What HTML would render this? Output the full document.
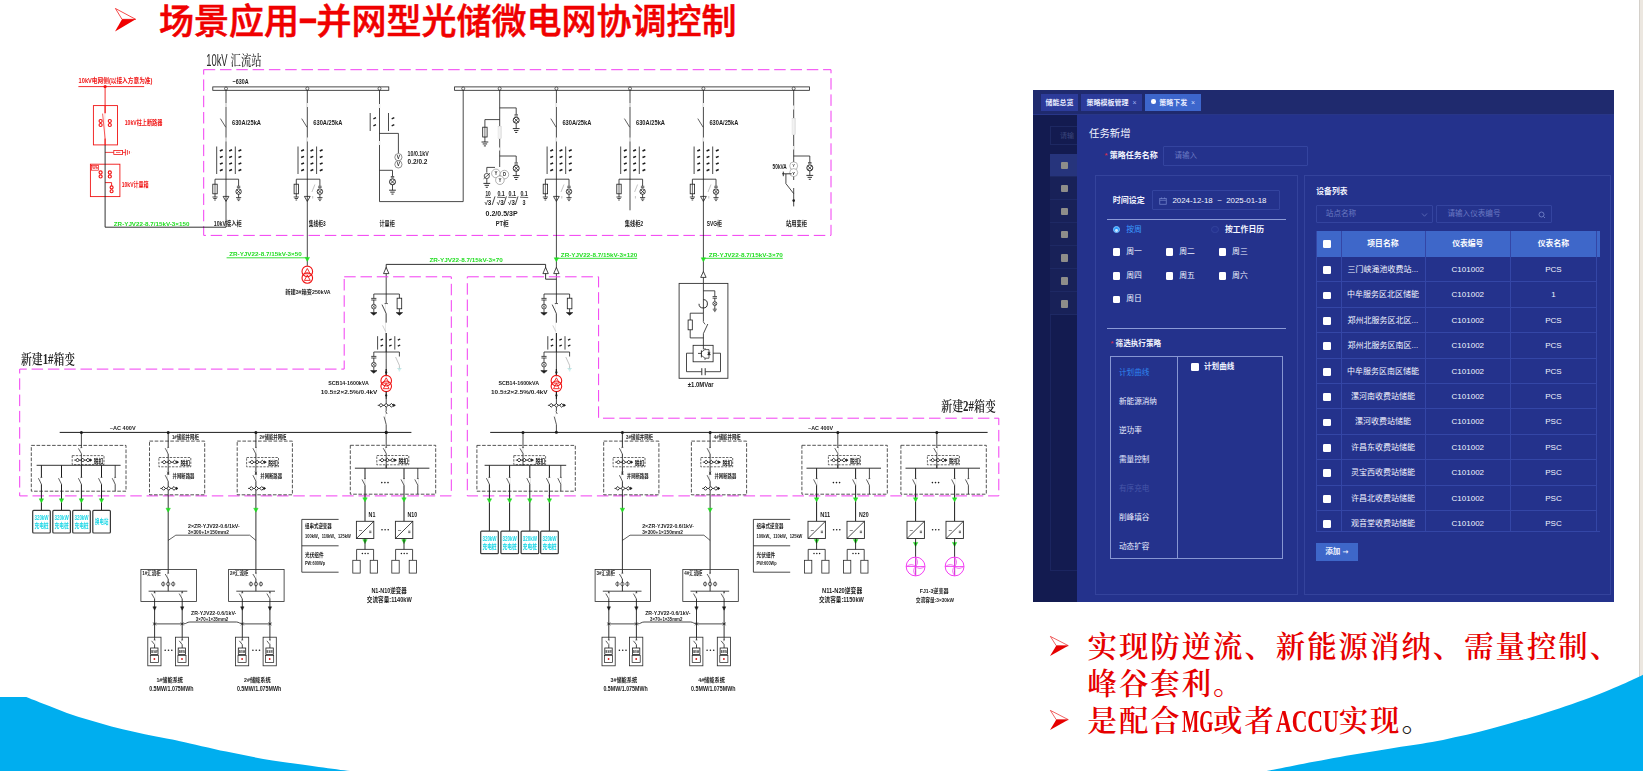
<!DOCTYPE html>
<html lang="zh"><head><meta charset="utf-8"><title>场景应用</title>
<style>
html,body{margin:0;padding:0;background:#fff;}
body{width:1643px;height:771px;position:relative;overflow:hidden;
 font-family:"Liberation Sans","Noto Sans CJK SC",sans-serif;}
.abs{position:absolute;}
#title{left:112px;top:-0.5px;height:44px;line-height:44px;white-space:nowrap;color:#f00000;
 font-family:"Liberation Sans","Noto Sans CJK SC",sans-serif;font-weight:500;font-size:35px;letter-spacing:0px;-webkit-text-stroke:0.55px #f00000;}
#title .dash{display:inline-block;width:17.5px;text-align:center;}
#title .dash i{display:inline-block;font-style:normal;transform:scaleX(1.75);position:relative;top:-3.6px;font-weight:700;}
#title .arr{position:absolute;left:0;top:0;}
#title .t{position:absolute;left:47px;top:0;}
#bul{left:1048px;top:628.5px;color:#e60000;
 font-family:"Liberation Serif","Noto Serif CJK SC",serif;font-weight:600;font-size:29.4px;letter-spacing:2px;line-height:37.4px;white-space:nowrap;}
#bul .ln{position:absolute;left:39.5px;height:38px;}
#bul .lat{display:inline-block;transform-origin:0 50%;white-space:nowrap;font-weight:700;letter-spacing:0;font-size:31.4px;line-height:37.4px;vertical-align:top;}
#edge{left:1638.6px;top:0;width:5px;height:771px;background:#ece7e0;border-left:1px solid #d4d0ca;box-sizing:border-box;}

#pn{left:1033px;top:90px;width:580.5px;height:512px;background:#24328c;overflow:hidden;color:#fff;
 font-family:"Liberation Sans","Noto Sans CJK SC",sans-serif;font-size:8px;}
#pn div,#pn span{position:absolute;box-sizing:border-box;white-space:nowrap;}
#pn .tb{left:0;top:0;width:581px;height:23.5px;background:#1f2a6e;}
#pn .tbl{left:0;top:23.5px;width:581px;height:1px;background:#283688;}
#pn .tab{top:3.8px;height:17px;line-height:17px;background:#2c3b9a;font-size:7px;font-weight:700;text-align:center;color:#e8ecff;}
#pn .tab.on{background:#3d66cc;}
#pn .sb{left:0;top:24.5px;width:44px;height:488px;background:#131b50;}
#pn .sbin{left:17px;top:36px;width:40px;height:19px;border:1px solid #1d2862;color:#3b467c;font-size:7px;line-height:17px;padding-left:9px;}
#pn .sbr{left:17px;width:27px;height:23.1px;background:#182158;border-bottom:1px solid #1e2964;}
#pn .sbr.on{background:#26347c;}
#pn .sq{left:10.5px;top:7.8px;width:7.6px;height:7.6px;background:#8e8d8a;border-radius:1px;}
#pn .sbbox{left:17px;top:63.8px;width:30px;height:417px;border:1px solid #1b2560;border-top:none;}
#pn .h1{left:56px;top:37px;font-size:10.4px;line-height:14px;color:#f2f4ff;}
#pn .lab{font-weight:700;font-size:8px;line-height:12px;color:#f4f6ff;}
#pn .req{color:#e0304a;font-weight:400;}
#pn .inp{border:1px solid #34449f;border-radius:1px;}
#pn .ph{color:#6a79c2;font-size:7.6px;line-height:12px;}
#pn .card{border:1px solid #34439c;}
#pn .hr{height:1px;background:#8c9bd6;}
#pn .cb{width:7.8px;height:7.8px;background:#fff;border-radius:1.3px;}
#pn .cl{font-size:7.8px;line-height:12px;color:#f0f3ff;}
#pn .st{font-size:7.6px;line-height:12px;color:#e9edff;}
#pn .th{background:#3e67c9;font-weight:700;font-size:7.8px;line-height:25.5px;text-align:center;color:#fff;}
#pn .td{font-size:8px;line-height:25.4px;text-align:center;color:#f3f5ff;height:25.4px;border-bottom:1px solid #3446a6;}
#pn .vl{width:1px;background:#3446a6;}
</style></head>
<body>
<div id="title" class="abs"><svg class="abs" style="left:3.4px;top:8.5px;overflow:visible" width="20.7" height="23.6" viewBox="0 0 100 100" preserveAspectRatio="none"><path d="M2 2 L100 48 L34 48 Z" fill="none" stroke="#f00000" stroke-width="3.2" stroke-linejoin="miter"/><path d="M34 48 L100 48 L0 100 Z" fill="#f00000"/></svg><span class="t">场景应用<span class="dash"><i>-</i></span>并网型光储微电网协调控制</span></div>
<svg class="abs" id="dg" style="left:0;top:0;filter:blur(0.35px)" width="1643" height="771" viewBox="0 0 1643 771" fill="none"><style>text.a{font-family:"Liberation Sans","Noto Sans CJK SC",sans-serif;font-weight:700;}text.b{font-family:"Liberation Sans","Noto Sans CJK SC",sans-serif;font-weight:700;}text.n{font-family:"Liberation Sans","Noto Sans CJK SC",sans-serif;font-weight:400;}text.k{font-family:"Liberation Serif","Noto Serif CJK SC",serif;}</style><rect x="203.7" y="69.7" width="627.3" height="165.7" stroke="#f23df2" stroke-width="1.0" fill="none" stroke-dasharray="11.5 4.8"/><text class="n" x="206.2" y="65.9" font-size="16.4" fill="#2a2a2a" textLength="21.4" lengthAdjust="spacingAndGlyphs">10kV</text><text class="k" x="230.6" y="65.1" font-size="13.6" fill="#2a2a2a" font-weight="500" textLength="31" lengthAdjust="spacingAndGlyphs">汇流站</text><rect x="212.8" y="86.9" width="176" height="3.4" stroke="#1c1c1c" stroke-width="0.8" fill="#fff" /><rect x="454.6" y="86.9" width="355" height="3.4" stroke="#1c1c1c" stroke-width="0.8" fill="#fff" /><text class="a" x="232.6" y="84.38" font-size="6.6" fill="#1c1c1c" textLength="16" lengthAdjust="spacingAndGlyphs">~630A</text><circle cx="226" cy="88.6" r="1.5" stroke="#1c1c1c" stroke-width="0.7" fill="#fff"/><path d="M226 90.3L226 227.2" stroke="#1c1c1c" stroke-width="0.8" /><path d="M226 103L226 107" stroke="#e9e9e9" stroke-width="1.6" /><path d="M226 137.5L226 141.5" stroke="#e9e9e9" stroke-width="1.6" /><path d="M220.4 118.6L225.7 127.2" stroke="#1c1c1c" stroke-width="0.7" /><text class="a" x="232" y="125.19" font-size="7.2" fill="#1c1c1c" textLength="29" lengthAdjust="spacingAndGlyphs">630A/25kA</text><path d="M216.7 146.5L216.7 174" stroke="#1c1c1c" stroke-width="0.8" /><path d="M235.3 146.5L235.3 174" stroke="#1c1c1c" stroke-width="0.8" /><path d="M219.9 151.03L222.7 149.83" stroke="#1c1c1c" stroke-width="1.6" /><path d="M219.9 157.58L222.7 156.38" stroke="#1c1c1c" stroke-width="1.6" /><path d="M219.9 164.12L222.7 162.92" stroke="#1c1c1c" stroke-width="1.6" /><path d="M219.9 170.67L222.7 169.47" stroke="#1c1c1c" stroke-width="1.6" /><path d="M229.2 151.03L232 149.83" stroke="#1c1c1c" stroke-width="1.6" /><path d="M229.2 157.58L232 156.38" stroke="#1c1c1c" stroke-width="1.6" /><path d="M229.2 164.12L232 162.92" stroke="#1c1c1c" stroke-width="1.6" /><path d="M229.2 170.67L232 169.47" stroke="#1c1c1c" stroke-width="1.6" /><path d="M238.5 151.03L241.3 149.83" stroke="#1c1c1c" stroke-width="1.6" /><path d="M238.5 157.58L241.3 156.38" stroke="#1c1c1c" stroke-width="1.6" /><path d="M238.5 164.12L241.3 162.92" stroke="#1c1c1c" stroke-width="1.6" /><path d="M238.5 170.67L241.3 169.47" stroke="#1c1c1c" stroke-width="1.6" /><path d="M215 179.2L238.6 179.2" stroke="#1c1c1c" stroke-width="0.8" /><path d="M215 179.2L215 184.2" stroke="#1c1c1c" stroke-width="0.8" /><rect x="212.8" y="184.2" width="4.4" height="9.6" stroke="#1c1c1c" stroke-width="0.8" fill="none" /><path d="M215 184.2L215 193.8" stroke="#1c1c1c" stroke-width="0.6400000000000001" /><path d="M215 193.8L215 197" stroke="#1c1c1c" stroke-width="0.8" /><path d="M212.4 197L217.6 197" stroke="#1c1c1c" stroke-width="0.8" /><path d="M213.3 198.5L216.7 198.5" stroke="#1c1c1c" stroke-width="0.8" /><path d="M214.2 200L215.8 200" stroke="#1c1c1c" stroke-width="0.8" /><path d="M238.6 179.2L238.6 186" stroke="#1c1c1c" stroke-width="0.8" /><path d="M236.9 186.3L240.3 186.3" stroke="#1c1c1c" stroke-width="0.7" /><path d="M236.9 187.6L240.3 187.6" stroke="#1c1c1c" stroke-width="0.7" /><circle cx="238.6" cy="191.6" r="2.7" stroke="#1c1c1c" stroke-width="0.85" fill="none"/><path d="M236.71 189.71L240.49 193.49" stroke="#1c1c1c" stroke-width="0.765" /><path d="M236.71 193.49L240.49 189.71" stroke="#1c1c1c" stroke-width="0.765" /><path d="M238.6 194.1L238.6 197.6" stroke="#1c1c1c" stroke-width="0.8" /><path d="M236 197.6L241.2 197.6" stroke="#1c1c1c" stroke-width="0.8" /><path d="M236.9 199.1L240.3 199.1" stroke="#1c1c1c" stroke-width="0.8" /><path d="M237.8 200.6L239.4 200.6" stroke="#1c1c1c" stroke-width="0.8" /><path d="M223.1 196.4L228.9 196.4L226 201.4Z" stroke="#1c1c1c" stroke-width="0.8" fill="none" /><circle cx="307.3" cy="88.6" r="1.5" stroke="#1c1c1c" stroke-width="0.7" fill="#fff"/><path d="M307.3 90.3L307.3 265.8" stroke="#1c1c1c" stroke-width="0.8" /><path d="M307.3 103L307.3 107" stroke="#e9e9e9" stroke-width="1.6" /><path d="M307.3 137.5L307.3 141.5" stroke="#e9e9e9" stroke-width="1.6" /><path d="M301.7 118.6L307 127.2" stroke="#1c1c1c" stroke-width="0.7" /><text class="a" x="313.3" y="125.19" font-size="7.2" fill="#1c1c1c" textLength="29" lengthAdjust="spacingAndGlyphs">630A/25kA</text><path d="M298 146.5L298 174" stroke="#1c1c1c" stroke-width="0.8" /><path d="M316.6 146.5L316.6 174" stroke="#1c1c1c" stroke-width="0.8" /><path d="M301.2 151.03L304 149.83" stroke="#1c1c1c" stroke-width="1.6" /><path d="M301.2 157.58L304 156.38" stroke="#1c1c1c" stroke-width="1.6" /><path d="M301.2 164.12L304 162.92" stroke="#1c1c1c" stroke-width="1.6" /><path d="M301.2 170.67L304 169.47" stroke="#1c1c1c" stroke-width="1.6" /><path d="M310.5 151.03L313.3 149.83" stroke="#1c1c1c" stroke-width="1.6" /><path d="M310.5 157.58L313.3 156.38" stroke="#1c1c1c" stroke-width="1.6" /><path d="M310.5 164.12L313.3 162.92" stroke="#1c1c1c" stroke-width="1.6" /><path d="M310.5 170.67L313.3 169.47" stroke="#1c1c1c" stroke-width="1.6" /><path d="M319.8 151.03L322.6 149.83" stroke="#1c1c1c" stroke-width="1.6" /><path d="M319.8 157.58L322.6 156.38" stroke="#1c1c1c" stroke-width="1.6" /><path d="M319.8 164.12L322.6 162.92" stroke="#1c1c1c" stroke-width="1.6" /><path d="M319.8 170.67L322.6 169.47" stroke="#1c1c1c" stroke-width="1.6" /><path d="M296.3 179.2L319.9 179.2" stroke="#1c1c1c" stroke-width="0.8" /><path d="M296.3 179.2L296.3 184.2" stroke="#1c1c1c" stroke-width="0.8" /><rect x="294.1" y="184.2" width="4.4" height="9.6" stroke="#1c1c1c" stroke-width="0.8" fill="none" /><path d="M296.3 184.2L296.3 193.8" stroke="#1c1c1c" stroke-width="0.6400000000000001" /><path d="M296.3 193.8L296.3 197" stroke="#1c1c1c" stroke-width="0.8" /><path d="M293.7 197L298.9 197" stroke="#1c1c1c" stroke-width="0.8" /><path d="M294.6 198.5L298 198.5" stroke="#1c1c1c" stroke-width="0.8" /><path d="M295.5 200L297.1 200" stroke="#1c1c1c" stroke-width="0.8" /><path d="M319.9 179.2L319.9 186" stroke="#1c1c1c" stroke-width="0.8" /><path d="M318.2 186.3L321.6 186.3" stroke="#1c1c1c" stroke-width="0.7" /><path d="M318.2 187.6L321.6 187.6" stroke="#1c1c1c" stroke-width="0.7" /><circle cx="319.9" cy="191.6" r="2.7" stroke="#1c1c1c" stroke-width="0.85" fill="none"/><path d="M318.01 189.71L321.79 193.49" stroke="#1c1c1c" stroke-width="0.765" /><path d="M318.01 193.49L321.79 189.71" stroke="#1c1c1c" stroke-width="0.765" /><path d="M319.9 194.1L319.9 197.6" stroke="#1c1c1c" stroke-width="0.8" /><path d="M317.3 197.6L322.5 197.6" stroke="#1c1c1c" stroke-width="0.8" /><path d="M318.2 199.1L321.6 199.1" stroke="#1c1c1c" stroke-width="0.8" /><path d="M319.1 200.6L320.7 200.6" stroke="#1c1c1c" stroke-width="0.8" /><path d="M314.9 184.5L311.9 192" stroke="#9a9a9a" stroke-width="0.6" /><path d="M312.7 196L312.7 198.5" stroke="#9a9a9a" stroke-width="0.6" /><path d="M304.4 196.4L310.2 196.4L307.3 201.4Z" stroke="#1c1c1c" stroke-width="0.8" fill="none" /><circle cx="556.4" cy="88.6" r="1.5" stroke="#1c1c1c" stroke-width="0.7" fill="#fff"/><path d="M556.4 90.3L556.4 270" stroke="#1c1c1c" stroke-width="0.8" /><path d="M556.4 103L556.4 107" stroke="#e9e9e9" stroke-width="1.6" /><path d="M556.4 137.5L556.4 141.5" stroke="#e9e9e9" stroke-width="1.6" /><path d="M550.8 118.6L556.1 127.2" stroke="#1c1c1c" stroke-width="0.7" /><text class="a" x="562.4" y="125.19" font-size="7.2" fill="#1c1c1c" textLength="29" lengthAdjust="spacingAndGlyphs">630A/25kA</text><path d="M547.1 146.5L547.1 174" stroke="#1c1c1c" stroke-width="0.8" /><path d="M565.7 146.5L565.7 174" stroke="#1c1c1c" stroke-width="0.8" /><path d="M550.3 151.03L553.1 149.83" stroke="#1c1c1c" stroke-width="1.6" /><path d="M550.3 157.58L553.1 156.38" stroke="#1c1c1c" stroke-width="1.6" /><path d="M550.3 164.12L553.1 162.92" stroke="#1c1c1c" stroke-width="1.6" /><path d="M550.3 170.67L553.1 169.47" stroke="#1c1c1c" stroke-width="1.6" /><path d="M559.6 151.03L562.4 149.83" stroke="#1c1c1c" stroke-width="1.6" /><path d="M559.6 157.58L562.4 156.38" stroke="#1c1c1c" stroke-width="1.6" /><path d="M559.6 164.12L562.4 162.92" stroke="#1c1c1c" stroke-width="1.6" /><path d="M559.6 170.67L562.4 169.47" stroke="#1c1c1c" stroke-width="1.6" /><path d="M568.9 151.03L571.7 149.83" stroke="#1c1c1c" stroke-width="1.6" /><path d="M568.9 157.58L571.7 156.38" stroke="#1c1c1c" stroke-width="1.6" /><path d="M568.9 164.12L571.7 162.92" stroke="#1c1c1c" stroke-width="1.6" /><path d="M568.9 170.67L571.7 169.47" stroke="#1c1c1c" stroke-width="1.6" /><path d="M545.4 179.2L569 179.2" stroke="#1c1c1c" stroke-width="0.8" /><path d="M545.4 179.2L545.4 184.2" stroke="#1c1c1c" stroke-width="0.8" /><rect x="543.2" y="184.2" width="4.4" height="9.6" stroke="#1c1c1c" stroke-width="0.8" fill="none" /><path d="M545.4 184.2L545.4 193.8" stroke="#1c1c1c" stroke-width="0.6400000000000001" /><path d="M545.4 193.8L545.4 197" stroke="#1c1c1c" stroke-width="0.8" /><path d="M542.8 197L548 197" stroke="#1c1c1c" stroke-width="0.8" /><path d="M543.7 198.5L547.1 198.5" stroke="#1c1c1c" stroke-width="0.8" /><path d="M544.6 200L546.2 200" stroke="#1c1c1c" stroke-width="0.8" /><path d="M569 179.2L569 186" stroke="#1c1c1c" stroke-width="0.8" /><path d="M567.3 186.3L570.7 186.3" stroke="#1c1c1c" stroke-width="0.7" /><path d="M567.3 187.6L570.7 187.6" stroke="#1c1c1c" stroke-width="0.7" /><circle cx="569" cy="191.6" r="2.7" stroke="#1c1c1c" stroke-width="0.85" fill="none"/><path d="M567.11 189.71L570.89 193.49" stroke="#1c1c1c" stroke-width="0.765" /><path d="M567.11 193.49L570.89 189.71" stroke="#1c1c1c" stroke-width="0.765" /><path d="M569 194.1L569 197.6" stroke="#1c1c1c" stroke-width="0.8" /><path d="M566.4 197.6L571.6 197.6" stroke="#1c1c1c" stroke-width="0.8" /><path d="M567.3 199.1L570.7 199.1" stroke="#1c1c1c" stroke-width="0.8" /><path d="M568.2 200.6L569.8 200.6" stroke="#1c1c1c" stroke-width="0.8" /><path d="M564 184.5L561 192" stroke="#9a9a9a" stroke-width="0.6" /><path d="M561.8 196L561.8 198.5" stroke="#9a9a9a" stroke-width="0.6" /><path d="M553.5 196.4L559.3 196.4L556.4 201.4Z" stroke="#1c1c1c" stroke-width="0.8" fill="none" /><circle cx="630" cy="88.6" r="1.5" stroke="#1c1c1c" stroke-width="0.7" fill="#fff"/><path d="M630 90.3L630 210.3" stroke="#1c1c1c" stroke-width="0.8" /><path d="M630 103L630 107" stroke="#e9e9e9" stroke-width="1.6" /><path d="M630 137.5L630 141.5" stroke="#e9e9e9" stroke-width="1.6" /><path d="M624.4 118.6L629.7 127.2" stroke="#1c1c1c" stroke-width="0.7" /><text class="a" x="636" y="125.19" font-size="7.2" fill="#1c1c1c" textLength="29" lengthAdjust="spacingAndGlyphs">630A/25kA</text><path d="M620.7 146.5L620.7 174" stroke="#1c1c1c" stroke-width="0.8" /><path d="M639.3 146.5L639.3 174" stroke="#1c1c1c" stroke-width="0.8" /><path d="M623.9 151.03L626.7 149.83" stroke="#1c1c1c" stroke-width="1.6" /><path d="M623.9 157.58L626.7 156.38" stroke="#1c1c1c" stroke-width="1.6" /><path d="M623.9 164.12L626.7 162.92" stroke="#1c1c1c" stroke-width="1.6" /><path d="M623.9 170.67L626.7 169.47" stroke="#1c1c1c" stroke-width="1.6" /><path d="M633.2 151.03L636 149.83" stroke="#1c1c1c" stroke-width="1.6" /><path d="M633.2 157.58L636 156.38" stroke="#1c1c1c" stroke-width="1.6" /><path d="M633.2 164.12L636 162.92" stroke="#1c1c1c" stroke-width="1.6" /><path d="M633.2 170.67L636 169.47" stroke="#1c1c1c" stroke-width="1.6" /><path d="M642.5 151.03L645.3 149.83" stroke="#1c1c1c" stroke-width="1.6" /><path d="M642.5 157.58L645.3 156.38" stroke="#1c1c1c" stroke-width="1.6" /><path d="M642.5 164.12L645.3 162.92" stroke="#1c1c1c" stroke-width="1.6" /><path d="M642.5 170.67L645.3 169.47" stroke="#1c1c1c" stroke-width="1.6" /><path d="M619 179.2L642.6 179.2" stroke="#1c1c1c" stroke-width="0.8" /><path d="M619 179.2L619 184.2" stroke="#1c1c1c" stroke-width="0.8" /><rect x="616.8" y="184.2" width="4.4" height="9.6" stroke="#1c1c1c" stroke-width="0.8" fill="none" /><path d="M619 184.2L619 193.8" stroke="#1c1c1c" stroke-width="0.6400000000000001" /><path d="M619 193.8L619 197" stroke="#1c1c1c" stroke-width="0.8" /><path d="M616.4 197L621.6 197" stroke="#1c1c1c" stroke-width="0.8" /><path d="M617.3 198.5L620.7 198.5" stroke="#1c1c1c" stroke-width="0.8" /><path d="M618.2 200L619.8 200" stroke="#1c1c1c" stroke-width="0.8" /><path d="M642.6 179.2L642.6 186" stroke="#1c1c1c" stroke-width="0.8" /><path d="M640.9 186.3L644.3 186.3" stroke="#1c1c1c" stroke-width="0.7" /><path d="M640.9 187.6L644.3 187.6" stroke="#1c1c1c" stroke-width="0.7" /><circle cx="642.6" cy="191.6" r="2.7" stroke="#1c1c1c" stroke-width="0.85" fill="none"/><path d="M640.71 189.71L644.49 193.49" stroke="#1c1c1c" stroke-width="0.765" /><path d="M640.71 193.49L644.49 189.71" stroke="#1c1c1c" stroke-width="0.765" /><path d="M642.6 194.1L642.6 197.6" stroke="#1c1c1c" stroke-width="0.8" /><path d="M640 197.6L645.2 197.6" stroke="#1c1c1c" stroke-width="0.8" /><path d="M640.9 199.1L644.3 199.1" stroke="#1c1c1c" stroke-width="0.8" /><path d="M641.8 200.6L643.4 200.6" stroke="#1c1c1c" stroke-width="0.8" /><path d="M637.6 184.5L634.6 192" stroke="#9a9a9a" stroke-width="0.6" /><path d="M635.4 196L635.4 198.5" stroke="#9a9a9a" stroke-width="0.6" /><circle cx="703.4" cy="88.6" r="1.5" stroke="#1c1c1c" stroke-width="0.7" fill="#fff"/><path d="M703.4 90.3L703.4 272" stroke="#1c1c1c" stroke-width="0.8" /><path d="M703.4 103L703.4 107" stroke="#e9e9e9" stroke-width="1.6" /><path d="M703.4 137.5L703.4 141.5" stroke="#e9e9e9" stroke-width="1.6" /><path d="M697.8 118.6L703.1 127.2" stroke="#1c1c1c" stroke-width="0.7" /><text class="a" x="709.4" y="125.19" font-size="7.2" fill="#1c1c1c" textLength="29" lengthAdjust="spacingAndGlyphs">630A/25kA</text><path d="M694.1 146.5L694.1 174" stroke="#1c1c1c" stroke-width="0.8" /><path d="M712.7 146.5L712.7 174" stroke="#1c1c1c" stroke-width="0.8" /><path d="M697.3 151.03L700.1 149.83" stroke="#1c1c1c" stroke-width="1.6" /><path d="M697.3 157.58L700.1 156.38" stroke="#1c1c1c" stroke-width="1.6" /><path d="M697.3 164.12L700.1 162.92" stroke="#1c1c1c" stroke-width="1.6" /><path d="M697.3 170.67L700.1 169.47" stroke="#1c1c1c" stroke-width="1.6" /><path d="M706.6 151.03L709.4 149.83" stroke="#1c1c1c" stroke-width="1.6" /><path d="M706.6 157.58L709.4 156.38" stroke="#1c1c1c" stroke-width="1.6" /><path d="M706.6 164.12L709.4 162.92" stroke="#1c1c1c" stroke-width="1.6" /><path d="M706.6 170.67L709.4 169.47" stroke="#1c1c1c" stroke-width="1.6" /><path d="M715.9 151.03L718.7 149.83" stroke="#1c1c1c" stroke-width="1.6" /><path d="M715.9 157.58L718.7 156.38" stroke="#1c1c1c" stroke-width="1.6" /><path d="M715.9 164.12L718.7 162.92" stroke="#1c1c1c" stroke-width="1.6" /><path d="M715.9 170.67L718.7 169.47" stroke="#1c1c1c" stroke-width="1.6" /><path d="M692.4 179.2L716 179.2" stroke="#1c1c1c" stroke-width="0.8" /><path d="M692.4 179.2L692.4 184.2" stroke="#1c1c1c" stroke-width="0.8" /><rect x="690.2" y="184.2" width="4.4" height="9.6" stroke="#1c1c1c" stroke-width="0.8" fill="none" /><path d="M692.4 184.2L692.4 193.8" stroke="#1c1c1c" stroke-width="0.6400000000000001" /><path d="M692.4 193.8L692.4 197" stroke="#1c1c1c" stroke-width="0.8" /><path d="M689.8 197L695 197" stroke="#1c1c1c" stroke-width="0.8" /><path d="M690.7 198.5L694.1 198.5" stroke="#1c1c1c" stroke-width="0.8" /><path d="M691.6 200L693.2 200" stroke="#1c1c1c" stroke-width="0.8" /><path d="M716 179.2L716 186" stroke="#1c1c1c" stroke-width="0.8" /><path d="M714.3 186.3L717.7 186.3" stroke="#1c1c1c" stroke-width="0.7" /><path d="M714.3 187.6L717.7 187.6" stroke="#1c1c1c" stroke-width="0.7" /><circle cx="716" cy="191.6" r="2.7" stroke="#1c1c1c" stroke-width="0.85" fill="none"/><path d="M714.11 189.71L717.89 193.49" stroke="#1c1c1c" stroke-width="0.765" /><path d="M714.11 193.49L717.89 189.71" stroke="#1c1c1c" stroke-width="0.765" /><path d="M716 194.1L716 197.6" stroke="#1c1c1c" stroke-width="0.8" /><path d="M713.4 197.6L718.6 197.6" stroke="#1c1c1c" stroke-width="0.8" /><path d="M714.3 199.1L717.7 199.1" stroke="#1c1c1c" stroke-width="0.8" /><path d="M715.2 200.6L716.8 200.6" stroke="#1c1c1c" stroke-width="0.8" /><path d="M711 184.5L708 192" stroke="#9a9a9a" stroke-width="0.6" /><path d="M708.8 196L708.8 198.5" stroke="#9a9a9a" stroke-width="0.6" /><path d="M700.5 196.4L706.3 196.4L703.4 201.4Z" stroke="#1c1c1c" stroke-width="0.8" fill="none" /><circle cx="379.5" cy="88.6" r="1.5" stroke="#1c1c1c" stroke-width="0.7" fill="#fff"/><path d="M379.5 90.3L379.5 201.6" stroke="#1c1c1c" stroke-width="0.8" /><path d="M379.5 104L379.5 108" stroke="#e9e9e9" stroke-width="1.6" /><path d="M379.5 141L379.5 145" stroke="#e9e9e9" stroke-width="1.6" /><path d="M370.2 113L370.2 131" stroke="#1c1c1c" stroke-width="0.8" /><path d="M373.4 118.8L376 117.6" stroke="#1c1c1c" stroke-width="1.3" /><path d="M373.4 125.8L376 124.6" stroke="#1c1c1c" stroke-width="1.3" /><path d="M388.5 113L388.5 131" stroke="#1c1c1c" stroke-width="0.8" /><path d="M391.7 118.8L394.3 117.6" stroke="#1c1c1c" stroke-width="1.3" /><path d="M391.7 125.8L394.3 124.6" stroke="#1c1c1c" stroke-width="1.3" /><path d="M379.5 133.4L398.4 133.4L398.4 153.4" stroke="#1c1c1c" stroke-width="0.8" fill="none" /><circle cx="398.4" cy="157.2" r="3.6" stroke="#444" stroke-width="0.6" fill="#fff"/><circle cx="398.4" cy="164.4" r="3.6" stroke="#444" stroke-width="0.6" fill="#fff"/><text class="b" x="396.8" y="159.07" font-size="5.2" fill="#1c1c1c" textLength="3.2" lengthAdjust="spacingAndGlyphs">V</text><text class="b" x="396.8" y="166.27" font-size="5.2" fill="#1c1c1c" textLength="3.2" lengthAdjust="spacingAndGlyphs">V</text><text class="a" x="407.6" y="155.98" font-size="6.6" fill="#1c1c1c" textLength="21.2" lengthAdjust="spacingAndGlyphs">10/0.1kV</text><text class="a" x="407.6" y="163.98" font-size="6.6" fill="#1c1c1c" textLength="19.8" lengthAdjust="spacingAndGlyphs">0.2/0.2</text><path d="M379.5 170.3L392.5 170.3L392.5 176.2" stroke="#1c1c1c" stroke-width="0.8" fill="none" /><path d="M390.8 176.5L394.2 176.5" stroke="#1c1c1c" stroke-width="0.7" /><path d="M390.8 177.8L394.2 177.8" stroke="#1c1c1c" stroke-width="0.7" /><circle cx="392.5" cy="181.9" r="3" stroke="#1c1c1c" stroke-width="0.9" fill="none"/><path d="M390.4 179.8L394.6 184" stroke="#1c1c1c" stroke-width="0.81" /><path d="M390.4 184L394.6 179.8" stroke="#1c1c1c" stroke-width="0.81" /><path d="M392.5 184.5L392.5 190.2" stroke="#1c1c1c" stroke-width="0.8" /><path d="M389.12 190.2L395.88 190.2" stroke="#1c1c1c" stroke-width="0.9" /><path d="M390.29 192.15L394.71 192.15" stroke="#1c1c1c" stroke-width="0.9" /><path d="M391.46 194.1L393.54 194.1" stroke="#1c1c1c" stroke-width="0.9" /><path d="M379.5 201.6L463.2 201.6L463.2 90.3" stroke="#1c1c1c" stroke-width="0.8" fill="none" /><circle cx="463.2" cy="88.6" r="1.5" stroke="#1c1c1c" stroke-width="0.7" fill="#fff"/><circle cx="499.7" cy="88.6" r="1.5" stroke="#1c1c1c" stroke-width="0.7" fill="#fff"/><path d="M499.7 90.3L499.7 167" stroke="#1c1c1c" stroke-width="0.8" /><path d="M499.7 107.9L516.2 107.9L516.2 114.4" stroke="#1c1c1c" stroke-width="0.8" fill="none" /><path d="M514.5 114.7L517.9 114.7" stroke="#1c1c1c" stroke-width="0.7" /><path d="M514.5 116L517.9 116" stroke="#1c1c1c" stroke-width="0.7" /><circle cx="516.2" cy="120.2" r="3" stroke="#1c1c1c" stroke-width="0.9" fill="none"/><path d="M514.1 118.1L518.3 122.3" stroke="#1c1c1c" stroke-width="0.81" /><path d="M514.1 122.3L518.3 118.1" stroke="#1c1c1c" stroke-width="0.81" /><path d="M516.2 122.8L516.2 128.6" stroke="#1c1c1c" stroke-width="0.8" /><path d="M512.82 128.6L519.58 128.6" stroke="#1c1c1c" stroke-width="0.9" /><path d="M513.99 130.55L518.41 130.55" stroke="#1c1c1c" stroke-width="0.9" /><path d="M515.16 132.5L517.24 132.5" stroke="#1c1c1c" stroke-width="0.9" /><path d="M499.7 119.6L484.9 119.6L484.9 127.2" stroke="#1c1c1c" stroke-width="0.8" fill="none" /><rect x="482.7" y="127.2" width="4.4" height="9.8" stroke="#1c1c1c" stroke-width="0.8" fill="none" /><path d="M484.9 127.2L484.9 137" stroke="#1c1c1c" stroke-width="0.6400000000000001" /><path d="M484.9 137L484.9 142" stroke="#1c1c1c" stroke-width="0.8" /><path d="M481.52 142L488.28 142" stroke="#1c1c1c" stroke-width="0.9" /><path d="M482.69 143.95L487.11 143.95" stroke="#1c1c1c" stroke-width="0.9" /><path d="M483.86 145.9L485.94 145.9" stroke="#1c1c1c" stroke-width="0.9" /><path d="M499.7 126L499.7 139" stroke="#f2f2f2" stroke-width="1.8" /><rect x="498.1" y="126.4" width="3.2" height="12.2" stroke="#cfcfcf" stroke-width="0.5" fill="none" /><path d="M499.7 147.5L499.7 150.5" stroke="#e9e9e9" stroke-width="1.6" /><path d="M499.7 156L516.2 156L516.2 162.5" stroke="#1c1c1c" stroke-width="0.8" fill="none" /><path d="M514.5 162.8L517.9 162.8" stroke="#1c1c1c" stroke-width="0.7" /><path d="M514.5 164.1L517.9 164.1" stroke="#1c1c1c" stroke-width="0.7" /><circle cx="516.2" cy="168.3" r="3" stroke="#1c1c1c" stroke-width="0.9" fill="none"/><path d="M514.1 166.2L518.3 170.4" stroke="#1c1c1c" stroke-width="0.81" /><path d="M514.1 170.4L518.3 166.2" stroke="#1c1c1c" stroke-width="0.81" /><path d="M516.2 170.9L516.2 175.6" stroke="#1c1c1c" stroke-width="0.8" /><path d="M512.82 175.6L519.58 175.6" stroke="#1c1c1c" stroke-width="0.9" /><path d="M513.99 177.55L518.41 177.55" stroke="#1c1c1c" stroke-width="0.9" /><path d="M515.16 179.5L517.24 179.5" stroke="#1c1c1c" stroke-width="0.9" /><circle cx="495.9" cy="173.4" r="4.3" stroke="#666" stroke-width="0.5" fill="#fff"/><circle cx="504.4" cy="174.6" r="4.3" stroke="#666" stroke-width="0.5" fill="#fff"/><circle cx="499.9" cy="180.2" r="4.3" stroke="#666" stroke-width="0.5" fill="#fff"/><text class="b" x="494.4" y="174.96" font-size="4.6" fill="#1c1c1c" textLength="3" lengthAdjust="spacingAndGlyphs">Y</text><text class="b" x="502.9" y="176.26" font-size="4.6" fill="#1c1c1c" textLength="3" lengthAdjust="spacingAndGlyphs">D</text><text class="b" x="498.4" y="181.96" font-size="4.6" fill="#1c1c1c" textLength="3" lengthAdjust="spacingAndGlyphs">Y</text><path d="M495 167.4L486.8 167.4L486.8 172.6" stroke="#1c1c1c" stroke-width="0.8" fill="none" /><circle cx="486.8" cy="176" r="2.6" stroke="#1c1c1c" stroke-width="0.7" fill="none"/><path d="M483.6 178.8L490 173.2" stroke="#1c1c1c" stroke-width="0.7" /><path d="M486.8 178.6L486.8 183.4" stroke="#1c1c1c" stroke-width="0.8" /><path d="M483.42 183.4L490.18 183.4" stroke="#1c1c1c" stroke-width="0.9" /><path d="M484.59 185.35L489.01 185.35" stroke="#1c1c1c" stroke-width="0.9" /><path d="M485.76 187.3L487.84 187.3" stroke="#1c1c1c" stroke-width="0.9" /><text class="b" x="485.4" y="196.1" font-size="6.4" fill="#1c1c1c" textLength="5.2" lengthAdjust="spacingAndGlyphs">10</text><path d="M485.2 197.2L491 197.6" stroke="#1c1c1c" stroke-width="0.7" /><text class="b" x="484.4" y="205.3" font-size="6.4" fill="#1c1c1c" textLength="7" lengthAdjust="spacingAndGlyphs">√3</text><text class="b" x="497.4" y="196.1" font-size="6.4" fill="#1c1c1c" textLength="7.4" lengthAdjust="spacingAndGlyphs">0.1</text><path d="M497.1 197.2L505.2 197.6" stroke="#1c1c1c" stroke-width="0.7" /><text class="b" x="496.8" y="205.3" font-size="6.4" fill="#1c1c1c" textLength="6.8" lengthAdjust="spacingAndGlyphs">√3</text><text class="b" x="508.6" y="196.1" font-size="6.4" fill="#1c1c1c" textLength="7.4" lengthAdjust="spacingAndGlyphs">0.1</text><path d="M508.3 197.2L516.4 197.6" stroke="#1c1c1c" stroke-width="0.7" /><text class="b" x="508" y="205.3" font-size="6.4" fill="#1c1c1c" textLength="6.8" lengthAdjust="spacingAndGlyphs">√3</text><text class="b" x="520.4" y="196.1" font-size="6.4" fill="#1c1c1c" textLength="7.4" lengthAdjust="spacingAndGlyphs">0.1</text><path d="M520.1 197.2L528.2 197.6" stroke="#1c1c1c" stroke-width="0.7" /><text class="b" x="522.6" y="205.3" font-size="6.4" fill="#1c1c1c" textLength="3" lengthAdjust="spacingAndGlyphs">3</text><path d="M492.2 205L495 196.4" stroke="#1c1c1c" stroke-width="0.8" /><path d="M503.6 205L506.4 196.4" stroke="#1c1c1c" stroke-width="0.8" /><path d="M515.2 205L518 196.4" stroke="#1c1c1c" stroke-width="0.8" /><text class="a" x="485.6" y="215.65" font-size="6.8" fill="#1c1c1c" textLength="32" lengthAdjust="spacingAndGlyphs">0.2/0.5/3P</text><circle cx="793.7" cy="88.6" r="1.5" stroke="#1c1c1c" stroke-width="0.7" fill="#fff"/><path d="M793.7 90.3L793.7 162" stroke="#1c1c1c" stroke-width="0.8" /><path d="M793.7 105.5L793.7 109.5" stroke="#e9e9e9" stroke-width="1.6" /><path d="M793.7 118L793.7 135" stroke="#f2f2f2" stroke-width="1.8" /><rect x="792.1" y="118.6" width="3.2" height="16" stroke="#cfcfcf" stroke-width="0.5" fill="none" /><path d="M793.7 146L793.7 149.5" stroke="#e9e9e9" stroke-width="1.6" /><path d="M793.7 156L809.8 156L809.8 162.2" stroke="#1c1c1c" stroke-width="0.8" fill="none" /><path d="M808.1 162.5L811.5 162.5" stroke="#1c1c1c" stroke-width="0.7" /><path d="M808.1 163.8L811.5 163.8" stroke="#1c1c1c" stroke-width="0.7" /><circle cx="809.8" cy="167.9" r="3" stroke="#1c1c1c" stroke-width="0.9" fill="none"/><path d="M807.7 165.8L811.9 170" stroke="#1c1c1c" stroke-width="0.81" /><path d="M807.7 170L811.9 165.8" stroke="#1c1c1c" stroke-width="0.81" /><path d="M809.8 170.5L809.8 175.4" stroke="#1c1c1c" stroke-width="0.8" /><path d="M806.42 175.4L813.18 175.4" stroke="#1c1c1c" stroke-width="0.9" /><path d="M807.59 177.35L812.01 177.35" stroke="#1c1c1c" stroke-width="0.9" /><path d="M808.76 179.3L810.84 179.3" stroke="#1c1c1c" stroke-width="0.9" /><circle cx="793.7" cy="165.9" r="4" stroke="#777" stroke-width="0.5" fill="#fff"/><circle cx="793.7" cy="172.6" r="4" stroke="#777" stroke-width="0.5" fill="#fff"/><text class="b" x="792.3" y="167.41" font-size="4.2" fill="#555" textLength="2.8" lengthAdjust="spacingAndGlyphs">Y</text><text class="b" x="792.3" y="174.91" font-size="4.2" fill="#1c1c1c" textLength="2.8" lengthAdjust="spacingAndGlyphs">Y</text><text class="a" x="772.6" y="168.6" font-size="6.4" fill="#1c1c1c" textLength="14.2" lengthAdjust="spacingAndGlyphs">50kVA</text><path d="M782.1 173.8L791.7 173.8" stroke="#1c1c1c" stroke-width="0.9" /><path d="M783.3 171.6L783.3 176.2" stroke="#1c1c1c" stroke-width="0.9" /><path d="M785.9 174L785.9 183.6L793.7 193.6" stroke="#1c1c1c" stroke-width="0.8" fill="none" /><path d="M793.7 176.6L793.7 180" stroke="#1c1c1c" stroke-width="0.8" /><path d="M793.7 188L793.7 206.4" stroke="#1c1c1c" stroke-width="0.8" /><circle cx="793.7" cy="200.6" r="1.3" fill="#1c1c1c"/><text class="b" x="213.8" y="225.9" font-size="6.4" fill="#1c1c1c" textLength="27.8" lengthAdjust="spacingAndGlyphs">10kV接入柜</text><text class="b" x="308.8" y="225.9" font-size="6.4" fill="#1c1c1c" textLength="16.8" lengthAdjust="spacingAndGlyphs">集线柜3</text><text class="b" x="379.4" y="225.9" font-size="6.4" fill="#1c1c1c" textLength="15.4" lengthAdjust="spacingAndGlyphs">计量柜</text><text class="b" x="495.8" y="225.9" font-size="6.4" fill="#1c1c1c" textLength="13" lengthAdjust="spacingAndGlyphs">PT柜</text><text class="b" x="624.8" y="225.9" font-size="6.4" fill="#1c1c1c" textLength="18.4" lengthAdjust="spacingAndGlyphs">集线柜2</text><text class="b" x="706.8" y="225.9" font-size="6.4" fill="#1c1c1c" textLength="15.2" lengthAdjust="spacingAndGlyphs">SVG柜</text><text class="b" x="786" y="225.9" font-size="6.4" fill="#1c1c1c" textLength="21" lengthAdjust="spacingAndGlyphs">站用变柜</text><text class="b" x="78.6" y="83.12" font-size="7" fill="#f01414" textLength="73.8" lengthAdjust="spacingAndGlyphs">10kV电网侧(以接入方意为准)</text><path d="M78.4 86.6L144.2 86.6" stroke="#f01414" stroke-width="0.9" /><circle cx="105.1" cy="86.6" r="1.6" fill="#f01414"/><path d="M105.1 86.6L105.1 145" stroke="#f01414" stroke-width="0.9" /><rect x="93.4" y="105.6" width="24.1" height="39.3" stroke="#f01414" stroke-width="0.9" fill="none" /><path d="M105.1 113L105.1 138.6" stroke="#fff" stroke-width="1.6" /><path d="M105.1 105.6L105.1 113.4" stroke="#f01414" stroke-width="0.9" /><path d="M105.1 138.6L105.1 145" stroke="#f01414" stroke-width="0.9" /><circle cx="100.6" cy="121" r="1.55" stroke="#f01414" stroke-width="1.15" fill="none"/><circle cx="100.6" cy="125" r="1.55" stroke="#f01414" stroke-width="1.15" fill="none"/><circle cx="109.8" cy="121" r="1.55" stroke="#f01414" stroke-width="1.15" fill="none"/><circle cx="109.8" cy="125" r="1.55" stroke="#f01414" stroke-width="1.15" fill="none"/><path d="M102.6 113.6L105.1 138.6" stroke="#f01414" stroke-width="0.7" /><text class="b" x="124.7" y="124.52" font-size="7" fill="#f01414" textLength="37.7" lengthAdjust="spacingAndGlyphs">10kV柱上断路器</text><path d="M105.1 152.4L113.8 152.4" stroke="#f01414" stroke-width="0.8" /><rect x="113.8" y="150.4" width="8.8" height="4" stroke="#f01414" stroke-width="0.8" fill="none" /><path d="M116 152.4L120.4 152.4" stroke="#f01414" stroke-width="0.7" /><path d="M122.6 152.4L125.4 152.4" stroke="#f01414" stroke-width="0.8" /><path d="M125.4 149.2L125.4 155.6" stroke="#f01414" stroke-width="0.8" /><path d="M127.4 150L127.4 154.8" stroke="#f01414" stroke-width="0.8" /><path d="M129.4 151L129.4 153.8" stroke="#f01414" stroke-width="0.8" /><path d="M131.2 152.4L131.3 152.4" stroke="#f01414" stroke-width="0.8" /><rect x="90.4" y="164.2" width="29.5" height="32.4" stroke="#f01414" stroke-width="0.9" fill="none" /><rect x="91.6" y="165.4" width="7" height="4.8" stroke="#f01414" stroke-width="0.7" fill="none" /><text class="b" x="92.2" y="169.1" font-size="3.6" fill="#f01414" textLength="5.8" lengthAdjust="spacingAndGlyphs">Wh</text><circle cx="100.6" cy="172.4" r="1.55" stroke="#f01414" stroke-width="1.15" fill="none"/><circle cx="100.6" cy="176.4" r="1.55" stroke="#f01414" stroke-width="1.15" fill="none"/><circle cx="109.8" cy="172.4" r="1.55" stroke="#f01414" stroke-width="1.15" fill="none"/><circle cx="109.8" cy="176.4" r="1.55" stroke="#f01414" stroke-width="1.15" fill="none"/><path d="M105.1 182.6L111.6 182.6L111.6 186" stroke="#f01414" stroke-width="0.9" fill="none" /><circle cx="111.6" cy="187.4" r="1.5" stroke="#f01414" stroke-width="1.15" fill="none"/><circle cx="111.6" cy="191.2" r="1.5" stroke="#f01414" stroke-width="1.15" fill="none"/><text class="b" x="121.7" y="187.32" font-size="7" fill="#f01414" textLength="27" lengthAdjust="spacingAndGlyphs">10kV计量箱</text><path d="M105.1 145L105.1 227.2L226 227.2" stroke="#1c1c1c" stroke-width="0.9" fill="none" /><text class="b" x="113.8" y="225.82" font-size="5.6" fill="#22dd22" textLength="75.6" lengthAdjust="spacingAndGlyphs">ZR-YJV22-8.7/15kV-3×150</text><text class="b" x="229.2" y="256.02" font-size="5.6" fill="#22dd22" textLength="72.6" lengthAdjust="spacingAndGlyphs">ZR-YJV22-8.7/15kV-3×50</text><path d="M226.6 257.8L307.3 257.8" stroke="#22dd22" stroke-width="0.9" /><path d="M305.1 257.4L309.5 257.4L307.3 261.4Z" stroke="#22dd22" stroke-width="0.5" fill="#22dd22" /><circle cx="307.3" cy="271.4" r="5.3" stroke="#f01414" stroke-width="1.1" fill="none"/><circle cx="307.3" cy="278" r="5.3" stroke="#f01414" stroke-width="1.1" fill="none"/><path d="M304.38 273.78L307.3 268.48L310.22 273.78Z" stroke="#f01414" stroke-width="0.8800000000000001" fill="none" /><path d="M304.38 280.38L307.3 275.08L310.22 280.38Z" stroke="#f01414" stroke-width="0.8800000000000001" fill="none" /><text class="b" x="285.2" y="294.23" font-size="6.2" fill="#1c1c1c" textLength="45.4" lengthAdjust="spacingAndGlyphs">新建3#箱变250kVA</text><path d="M386.2 270L386.2 264.4L545.6 264.4L545.6 279.2L556.4 279.2" stroke="#1c1c1c" stroke-width="0.9" fill="none" /><path d="M383.5 273.6L388.9 273.6L386.2 267.4Z" stroke="#1c1c1c" stroke-width="0.8" fill="#fff" /><path d="M542.9 273.6L548.3 273.6L545.6 267.4Z" stroke="#1c1c1c" stroke-width="0.8" fill="#fff" /><path d="M553.7 273.6L559.1 273.6L556.4 267.4Z" stroke="#1c1c1c" stroke-width="0.8" fill="#fff" /><text class="b" x="429.4" y="262.22" font-size="5.6" fill="#22dd22" textLength="73.4" lengthAdjust="spacingAndGlyphs">ZR-YJV22-8.7/15kV-3×70</text><text class="b" x="560.8" y="256.52" font-size="5.6" fill="#22dd22" textLength="76.4" lengthAdjust="spacingAndGlyphs">ZR-YJV22-8.7/15kV-3×120</text><path d="M556.4 258.3L637.2 258.3" stroke="#22dd22" stroke-width="0.9" /><path d="M554.2 257.8L558.6 257.8L556.4 261.8Z" stroke="#22dd22" stroke-width="0.5" fill="#22dd22" /><text class="b" x="708.8" y="256.52" font-size="5.6" fill="#22dd22" textLength="74" lengthAdjust="spacingAndGlyphs">ZR-YJV22-8.7/15kV-3×70</text><path d="M703.4 258.3L782.8 258.3" stroke="#22dd22" stroke-width="0.9" /><path d="M701.2 257.8L705.6 257.8L703.4 261.8Z" stroke="#22dd22" stroke-width="0.5" fill="#22dd22" /><path d="M386.2 273.6L386.2 376" stroke="#1c1c1c" stroke-width="0.8" /><path d="M373.8 294L399.4 294" stroke="#1c1c1c" stroke-width="0.8" /><path d="M373.8 294L373.8 298.2" stroke="#1c1c1c" stroke-width="0.8" /><path d="M371.2 298.4L376.4 298.4" stroke="#1c1c1c" stroke-width="0.8" /><path d="M371.2 300L376.4 300" stroke="#1c1c1c" stroke-width="0.8" /><path d="M373.8 300L373.8 304.4" stroke="#1c1c1c" stroke-width="0.8" /><circle cx="373.8" cy="306.6" r="2.3" stroke="#1c1c1c" stroke-width="0.7" fill="none"/><path d="M372.19 304.99L375.41 308.21" stroke="#1c1c1c" stroke-width="0.63" /><path d="M372.19 308.21L375.41 304.99" stroke="#1c1c1c" stroke-width="0.63" /><path d="M373.8 308.9L373.8 312.6" stroke="#1c1c1c" stroke-width="0.8" /><path d="M370.6 312.6L377 312.6L373.8 315.2Z" stroke="#1c1c1c" stroke-width="0.6" fill="#1c1c1c" /><path d="M399.4 294L399.4 298.2" stroke="#1c1c1c" stroke-width="0.8" /><rect x="397.1" y="298.2" width="4.6" height="10.6" stroke="#1c1c1c" stroke-width="0.8" fill="none" /><path d="M399.4 308.8L399.4 312.6" stroke="#1c1c1c" stroke-width="0.8" /><path d="M396.2 312.6L402.6 312.6L399.4 315.2Z" stroke="#1c1c1c" stroke-width="0.6" fill="#1c1c1c" /><path d="M384.6 303.6L387.8 303.6" stroke="#1c1c1c" stroke-width="0.8" /><path d="M386.2 303.8L386.2 322" stroke="#fff" stroke-width="1.6" /><path d="M382 304.6L386.2 313.6" stroke="#1c1c1c" stroke-width="0.8" /><path d="M386.2 313.6L386.2 322.6" stroke="#1c1c1c" stroke-width="0.8" /><path d="M386.2 322.6L386.2 333" stroke="#fff" stroke-width="1.6" /><path d="M382.6 325.4L385.6 331.6" stroke="#b0b0b0" stroke-width="0.6" /><path d="M386.2 333L386.2 352" stroke="#1c1c1c" stroke-width="0.8" /><path d="M377.6 336.2L377.6 349.6" stroke="#1c1c1c" stroke-width="0.8" /><path d="M380.6 340.2L383 339" stroke="#1c1c1c" stroke-width="1.3" /><path d="M380.6 346.2L383 345" stroke="#1c1c1c" stroke-width="1.3" /><path d="M389.2 340.2L391.6 339" stroke="#1c1c1c" stroke-width="1.3" /><path d="M389.2 346.2L391.6 345" stroke="#1c1c1c" stroke-width="1.3" /><path d="M394.8 336.2L394.8 349.6" stroke="#1c1c1c" stroke-width="0.8" /><path d="M397.8 340.2L400.2 339" stroke="#1c1c1c" stroke-width="1.3" /><path d="M397.8 346.2L400.2 345" stroke="#1c1c1c" stroke-width="1.3" /><path d="M373.8 352L399.4 352" stroke="#1c1c1c" stroke-width="0.8" /><path d="M373.8 352L373.8 356.2" stroke="#1c1c1c" stroke-width="0.8" /><path d="M371.2 356.4L376.4 356.4" stroke="#1c1c1c" stroke-width="0.8" /><path d="M371.2 358L376.4 358" stroke="#1c1c1c" stroke-width="0.8" /><path d="M373.8 358L373.8 362.4" stroke="#1c1c1c" stroke-width="0.8" /><circle cx="373.8" cy="364.6" r="2.3" stroke="#1c1c1c" stroke-width="0.7" fill="none"/><path d="M372.19 362.99L375.41 366.21" stroke="#1c1c1c" stroke-width="0.63" /><path d="M372.19 366.21L375.41 362.99" stroke="#1c1c1c" stroke-width="0.63" /><path d="M373.8 366.9L373.8 370.6" stroke="#1c1c1c" stroke-width="0.8" /><path d="M370.6 370.6L377 370.6L373.8 373.2Z" stroke="#1c1c1c" stroke-width="0.6" fill="#1c1c1c" /><path d="M399.4 352L399.4 356.5" stroke="#1c1c1c" stroke-width="0.8" /><path d="M395.6 357L399.4 365.4" stroke="#9a9a9a" stroke-width="0.6" /><path d="M399.4 365.4L399.4 368.5" stroke="#9a9a9a" stroke-width="0.6" /><path d="M397.32 368.5L401.48 368.5" stroke="#9ad6d6" stroke-width="0.6" /><path d="M398.04 369.7L400.76 369.7" stroke="#9ad6d6" stroke-width="0.6" /><path d="M398.76 370.9L400.04 370.9" stroke="#9ad6d6" stroke-width="0.6" /><circle cx="386.2" cy="372.4" r="1.1" fill="#1c1c1c"/><path d="M386.2 369L386.2 376.2" stroke="#1c1c1c" stroke-width="1.2" /><circle cx="386.2" cy="380.7" r="5.3" stroke="#f01414" stroke-width="1.1" fill="none"/><circle cx="386.2" cy="386.3" r="5.3" stroke="#f01414" stroke-width="1.1" fill="none"/><path d="M383.28 383.08L386.2 377.78L389.12 383.08Z" stroke="#f01414" stroke-width="0.8800000000000001" fill="none" /><path d="M383.28 388.69L386.2 383.38L389.12 388.69Z" stroke="#f01414" stroke-width="0.8800000000000001" fill="none" /><path d="M386.2 391.4L386.2 399" stroke="#1c1c1c" stroke-width="1.2" /><circle cx="386.2" cy="395.4" r="1.1" fill="#1c1c1c"/><path d="M386.2 399L386.2 432.3" stroke="#1c1c1c" stroke-width="0.8" /><path d="M377.7 405.3L394.7 405.3" stroke="#1c1c1c" stroke-width="0.8" /><path d="M379.1 405.3L381 403.4L382.9 405.3L381 407.2Z" stroke="#1c1c1c" stroke-width="0.9" fill="#fff" /><path d="M384.3 405.3L386.2 403.4L388.1 405.3L386.2 407.2Z" stroke="#1c1c1c" stroke-width="0.9" fill="#fff" /><path d="M389.5 405.3L391.4 403.4L393.3 405.3L391.4 407.2Z" stroke="#1c1c1c" stroke-width="0.9" fill="#fff" /><path d="M393.4 404L395.4 405.3L393.4 406.6Z" stroke="#1c1c1c" stroke-width="0.6" fill="#1c1c1c" /><path d="M386.2 411L386.2 424.4" stroke="#fff" stroke-width="1.6" /><path d="M385.8 411.2L387 414" stroke="#1c1c1c" stroke-width="0.7" /><path d="M384 416.6L386.2 424.4" stroke="#1c1c1c" stroke-width="0.7" /><circle cx="386.2" cy="432.3" r="1.5" fill="#1c1c1c"/><text class="a" x="328.2" y="384.53" font-size="6.2" fill="#1c1c1c" textLength="40.6" lengthAdjust="spacingAndGlyphs">SCB14-1600kVA</text><text class="a" x="320.8" y="393.53" font-size="6.2" fill="#1c1c1c" textLength="56.6" lengthAdjust="spacingAndGlyphs">10.5±2×2.5%/0.4kV</text><path d="M556.4 273.6L556.4 376" stroke="#1c1c1c" stroke-width="0.8" /><path d="M544 294L569.6 294" stroke="#1c1c1c" stroke-width="0.8" /><path d="M544 294L544 298.2" stroke="#1c1c1c" stroke-width="0.8" /><path d="M541.4 298.4L546.6 298.4" stroke="#1c1c1c" stroke-width="0.8" /><path d="M541.4 300L546.6 300" stroke="#1c1c1c" stroke-width="0.8" /><path d="M544 300L544 304.4" stroke="#1c1c1c" stroke-width="0.8" /><circle cx="544" cy="306.6" r="2.3" stroke="#1c1c1c" stroke-width="0.7" fill="none"/><path d="M542.39 304.99L545.61 308.21" stroke="#1c1c1c" stroke-width="0.63" /><path d="M542.39 308.21L545.61 304.99" stroke="#1c1c1c" stroke-width="0.63" /><path d="M544 308.9L544 312.6" stroke="#1c1c1c" stroke-width="0.8" /><path d="M540.8 312.6L547.2 312.6L544 315.2Z" stroke="#1c1c1c" stroke-width="0.6" fill="#1c1c1c" /><path d="M569.6 294L569.6 298.2" stroke="#1c1c1c" stroke-width="0.8" /><rect x="567.3" y="298.2" width="4.6" height="10.6" stroke="#1c1c1c" stroke-width="0.8" fill="none" /><path d="M569.6 308.8L569.6 312.6" stroke="#1c1c1c" stroke-width="0.8" /><path d="M566.4 312.6L572.8 312.6L569.6 315.2Z" stroke="#1c1c1c" stroke-width="0.6" fill="#1c1c1c" /><path d="M554.8 303.6L558 303.6" stroke="#1c1c1c" stroke-width="0.8" /><path d="M556.4 303.8L556.4 322" stroke="#fff" stroke-width="1.6" /><path d="M552.2 304.6L556.4 313.6" stroke="#1c1c1c" stroke-width="0.8" /><path d="M556.4 313.6L556.4 322.6" stroke="#1c1c1c" stroke-width="0.8" /><path d="M556.4 322.6L556.4 333" stroke="#fff" stroke-width="1.6" /><path d="M552.8 325.4L555.8 331.6" stroke="#b0b0b0" stroke-width="0.6" /><path d="M556.4 333L556.4 352" stroke="#1c1c1c" stroke-width="0.8" /><path d="M547.8 336.2L547.8 349.6" stroke="#1c1c1c" stroke-width="0.8" /><path d="M550.8 340.2L553.2 339" stroke="#1c1c1c" stroke-width="1.3" /><path d="M550.8 346.2L553.2 345" stroke="#1c1c1c" stroke-width="1.3" /><path d="M559.4 340.2L561.8 339" stroke="#1c1c1c" stroke-width="1.3" /><path d="M559.4 346.2L561.8 345" stroke="#1c1c1c" stroke-width="1.3" /><path d="M565 336.2L565 349.6" stroke="#1c1c1c" stroke-width="0.8" /><path d="M568 340.2L570.4 339" stroke="#1c1c1c" stroke-width="1.3" /><path d="M568 346.2L570.4 345" stroke="#1c1c1c" stroke-width="1.3" /><path d="M544 352L569.6 352" stroke="#1c1c1c" stroke-width="0.8" /><path d="M544 352L544 356.2" stroke="#1c1c1c" stroke-width="0.8" /><path d="M541.4 356.4L546.6 356.4" stroke="#1c1c1c" stroke-width="0.8" /><path d="M541.4 358L546.6 358" stroke="#1c1c1c" stroke-width="0.8" /><path d="M544 358L544 362.4" stroke="#1c1c1c" stroke-width="0.8" /><circle cx="544" cy="364.6" r="2.3" stroke="#1c1c1c" stroke-width="0.7" fill="none"/><path d="M542.39 362.99L545.61 366.21" stroke="#1c1c1c" stroke-width="0.63" /><path d="M542.39 366.21L545.61 362.99" stroke="#1c1c1c" stroke-width="0.63" /><path d="M544 366.9L544 370.6" stroke="#1c1c1c" stroke-width="0.8" /><path d="M540.8 370.6L547.2 370.6L544 373.2Z" stroke="#1c1c1c" stroke-width="0.6" fill="#1c1c1c" /><path d="M569.6 352L569.6 356.5" stroke="#1c1c1c" stroke-width="0.8" /><path d="M565.8 357L569.6 365.4" stroke="#9a9a9a" stroke-width="0.6" /><path d="M569.6 365.4L569.6 368.5" stroke="#9a9a9a" stroke-width="0.6" /><path d="M567.52 368.5L571.68 368.5" stroke="#9ad6d6" stroke-width="0.6" /><path d="M568.24 369.7L570.96 369.7" stroke="#9ad6d6" stroke-width="0.6" /><path d="M568.96 370.9L570.24 370.9" stroke="#9ad6d6" stroke-width="0.6" /><circle cx="556.4" cy="372.4" r="1.1" fill="#1c1c1c"/><path d="M556.4 369L556.4 376.2" stroke="#1c1c1c" stroke-width="1.2" /><circle cx="556.4" cy="380.7" r="5.3" stroke="#f01414" stroke-width="1.1" fill="none"/><circle cx="556.4" cy="386.3" r="5.3" stroke="#f01414" stroke-width="1.1" fill="none"/><path d="M553.49 383.08L556.4 377.78L559.31 383.08Z" stroke="#f01414" stroke-width="0.8800000000000001" fill="none" /><path d="M553.49 388.69L556.4 383.38L559.31 388.69Z" stroke="#f01414" stroke-width="0.8800000000000001" fill="none" /><path d="M556.4 391.4L556.4 399" stroke="#1c1c1c" stroke-width="1.2" /><circle cx="556.4" cy="395.4" r="1.1" fill="#1c1c1c"/><path d="M556.4 399L556.4 432.3" stroke="#1c1c1c" stroke-width="0.8" /><path d="M547.9 405.3L564.9 405.3" stroke="#1c1c1c" stroke-width="0.8" /><path d="M549.3 405.3L551.2 403.4L553.1 405.3L551.2 407.2Z" stroke="#1c1c1c" stroke-width="0.9" fill="#fff" /><path d="M554.5 405.3L556.4 403.4L558.3 405.3L556.4 407.2Z" stroke="#1c1c1c" stroke-width="0.9" fill="#fff" /><path d="M559.7 405.3L561.6 403.4L563.5 405.3L561.6 407.2Z" stroke="#1c1c1c" stroke-width="0.9" fill="#fff" /><path d="M563.6 404L565.6 405.3L563.6 406.6Z" stroke="#1c1c1c" stroke-width="0.6" fill="#1c1c1c" /><path d="M556.4 411L556.4 424.4" stroke="#fff" stroke-width="1.6" /><path d="M556 411.2L557.2 414" stroke="#1c1c1c" stroke-width="0.7" /><path d="M554.2 416.6L556.4 424.4" stroke="#1c1c1c" stroke-width="0.7" /><circle cx="556.4" cy="432.3" r="1.5" fill="#1c1c1c"/><text class="a" x="498.4" y="384.53" font-size="6.2" fill="#1c1c1c" textLength="40.6" lengthAdjust="spacingAndGlyphs">SCB14-1600kVA</text><text class="a" x="491" y="393.53" font-size="6.2" fill="#1c1c1c" textLength="56.6" lengthAdjust="spacingAndGlyphs">10.5±2×2.5%/0.4kV</text><path d="M703.4 272L703.4 304" stroke="#1c1c1c" stroke-width="0.8" /><path d="M700.7 277.4L706.1 277.4L703.4 271.6Z" stroke="#1c1c1c" stroke-width="0.8" fill="#fff" /><rect x="679.1" y="283.4" width="48.8" height="94.9" stroke="#333" stroke-width="0.9" fill="none" /><text class="a" x="687.8" y="387" font-size="6.4" fill="#1c1c1c" textLength="25.8" lengthAdjust="spacingAndGlyphs">±1.0MVar</text><path d="M703.4 290.8L714.8 290.8L714.8 296.2" stroke="#1c1c1c" stroke-width="0.8" fill="none" /><path d="M712.6 296.6L717 296.6" stroke="#1c1c1c" stroke-width="0.8" /><path d="M712.6 298.2L717 298.2" stroke="#1c1c1c" stroke-width="0.8" /><path d="M714.8 298.2L714.8 301.6" stroke="#1c1c1c" stroke-width="0.8" /><circle cx="714.8" cy="303.6" r="2" stroke="#1c1c1c" stroke-width="0.7" fill="none"/><path d="M713.4 302.2L716.2 305" stroke="#1c1c1c" stroke-width="0.63" /><path d="M713.4 305L716.2 302.2" stroke="#1c1c1c" stroke-width="0.63" /><path d="M714.8 305.6L714.8 309.2" stroke="#1c1c1c" stroke-width="0.8" /><path d="M712.72 309.2L716.88 309.2" stroke="#1c1c1c" stroke-width="0.7" /><path d="M713.44 310.4L716.16 310.4" stroke="#1c1c1c" stroke-width="0.7" /><path d="M714.16 311.6L715.44 311.6" stroke="#1c1c1c" stroke-width="0.7" /><path d="M703.4 299.6 A4.2 4.2 0 1 1 699.0 303.8" stroke="#1c1c1c" stroke-width="0.9"/><path d="M703.4 304L703.4 313.2" stroke="#1c1c1c" stroke-width="0.8" /><path d="M703.4 313.2L690.2 313.2L690.2 320" stroke="#1c1c1c" stroke-width="0.8" fill="none" /><rect x="688.1" y="320" width="4.2" height="9.8" stroke="#1c1c1c" stroke-width="0.8" fill="none" /><path d="M690.2 329.8L690.2 337.9L703.4 337.9" stroke="#1c1c1c" stroke-width="0.8" fill="none" /><path d="M703.4 313.2L703.4 321.6" stroke="#1c1c1c" stroke-width="0.8" /><path d="M703.2 321.8L705.2 324.4" stroke="#1c1c1c" stroke-width="0.7" /><path d="M707.8 324L703.4 333.6" stroke="#1c1c1c" stroke-width="0.8" /><path d="M703.4 333.6L703.4 345.3" stroke="#1c1c1c" stroke-width="0.8" /><rect x="693.1" y="345.3" width="20" height="16.5" stroke="#1c1c1c" stroke-width="0.8" fill="none" /><path d="M686.5 353.2L693.1 353.2" stroke="#1c1c1c" stroke-width="0.8" fill="none" /><path d="M713.1 353.2L720.5 353.2L720.5 371.7L705.4 371.7" stroke="#1c1c1c" stroke-width="0.8" fill="none" /><path d="M686.5 353.2L686.5 371.7L701.6 371.7" stroke="#1c1c1c" stroke-width="0.8" fill="none" /><path d="M701.8 368.2L701.8 375.2" stroke="#1c1c1c" stroke-width="0.9" /><path d="M705.2 368.2L705.2 375.2" stroke="#1c1c1c" stroke-width="0.9" /><path d="M703.4 345.3L703.4 349.4" stroke="#1c1c1c" stroke-width="0.8" /><path d="M698 353.4L701.4 353.4" stroke="#1c1c1c" stroke-width="0.8" fill="none" /><path d="M701.4 350.4L701.4 357.4" stroke="#1c1c1c" stroke-width="0.9" /><path d="M701.4 352.2L705 349.4L705 348" stroke="#1c1c1c" stroke-width="0.7" fill="none" /><path d="M701.4 355.4L705 358.2L705 360" stroke="#1c1c1c" stroke-width="0.7" fill="none" /><path d="M705 349.6L709 349.6L709 358.2L705 358.2" stroke="#1c1c1c" stroke-width="0.7" fill="none" /><path d="M707.6 354.8L710.4 354.8L709 352.4Z" stroke="#1c1c1c" stroke-width="0.5" fill="#1c1c1c" /><path d="M707.6 352.3L710.4 352.3" stroke="#1c1c1c" stroke-width="0.6" /><path d="M344.2 276.8L451.3 276.8L451.3 495.9L19.7 495.9L19.7 369.1L344.2 369.1Z" stroke="#f23df2" stroke-width="1.0" fill="none" stroke-dasharray="11.5 4.8"/><path d="M467.3 276.8L598.6 276.8L598.6 418.2L998.8 418.2L998.8 495.9L467.3 495.9Z" stroke="#f23df2" stroke-width="1.0" fill="none" stroke-dasharray="11.5 4.8"/><text class="k" x="21" y="363.94" font-size="14" fill="#222" font-weight="600" textLength="54.2" lengthAdjust="spacingAndGlyphs">新建1#箱变</text><text class="k" x="941.3" y="410.94" font-size="14" fill="#222" font-weight="600" textLength="54.5" lengthAdjust="spacingAndGlyphs">新建2#箱变</text><path d="M59.7 432.4L411.4 432.4" stroke="#1c1c1c" stroke-width="1.0" /><path d="M490.2 432.4L987.6 432.4" stroke="#1c1c1c" stroke-width="1.0" /><text class="b" x="109.8" y="429.56" font-size="6" fill="#1c1c1c" textLength="25.8" lengthAdjust="spacingAndGlyphs">~AC 400V</text><text class="b" x="808" y="430.16" font-size="6" fill="#1c1c1c" textLength="25" lengthAdjust="spacingAndGlyphs">~AC 400V</text><rect x="31.3" y="445.4" width="94.7" height="45.8" stroke="#2a2a2a" stroke-width="0.8" fill="none" stroke-dasharray="3.6 1.6"/><circle cx="81.4" cy="432.4" r="1.5" fill="#1c1c1c"/><path d="M81.4 432.4L81.4 465.3" stroke="#1c1c1c" stroke-width="0.8" /><path d="M81.4 447.6L81.4 453.6" stroke="#fff" stroke-width="1.7" /><path d="M78.4 448.4L81.4 453.6" stroke="#1c1c1c" stroke-width="0.7" /><path d="M80.5 447.6L82.3 447.6" stroke="#1c1c1c" stroke-width="0.6" /><rect x="72.2" y="455.6" width="31.8" height="9" stroke="#2a2a2a" stroke-width="0.7" fill="#fff" stroke-dasharray="2.4 1.2"/><path d="M74.2 460.1L91.2 460.1" stroke="#1c1c1c" stroke-width="0.8" /><path d="M75.6 460.1L77.5 458.2L79.4 460.1L77.5 462Z" stroke="#1c1c1c" stroke-width="0.9" fill="#fff" /><path d="M80.8 460.1L82.7 458.2L84.6 460.1L82.7 462Z" stroke="#1c1c1c" stroke-width="0.9" fill="#fff" /><path d="M86 460.1L87.9 458.2L89.8 460.1L87.9 462Z" stroke="#1c1c1c" stroke-width="0.9" fill="#fff" /><path d="M89.9 458.8L91.9 460.1L89.9 461.4Z" stroke="#1c1c1c" stroke-width="0.6" fill="#1c1c1c" /><text class="b" x="93.8" y="462.53" font-size="6.2" fill="#1c1c1c" textLength="9.6" lengthAdjust="spacingAndGlyphs">脱扣</text><path d="M81.4 455.6L81.4 465.3" stroke="#1c1c1c" stroke-width="0.8" /><path d="M36.6 465.3L120.6 465.3" stroke="#1c1c1c" stroke-width="0.9" /><path d="M41.4 465.3L41.4 510.4" stroke="#1c1c1c" stroke-width="1.0" /><path d="M41.4 477.4L41.4 484.2" stroke="#fff" stroke-width="1.7" /><path d="M38.4 478.2L41.4 484.2" stroke="#1c1c1c" stroke-width="0.7" /><path d="M40.5 477.4L42.3 477.4" stroke="#1c1c1c" stroke-width="0.6" /><path d="M39.2 498.8L43.6 498.8L41.4 502.8Z" stroke="#22dd22" stroke-width="0.5" fill="#22dd22" /><rect x="32.7" y="510.4" width="17.6" height="22.6" stroke="#383838" stroke-width="1.2" fill="#fff" rx="1"/><text class="b" x="34.4" y="520.18" font-size="6.6" fill="#19d6e6" textLength="14.2" lengthAdjust="spacingAndGlyphs">320kW</text><text class="b" x="34.4" y="527.92" font-size="7" fill="#19d6e6" textLength="14.2" lengthAdjust="spacingAndGlyphs">充电桩</text><path d="M61.5 465.3L61.5 510.4" stroke="#1c1c1c" stroke-width="1.0" /><path d="M61.5 477.4L61.5 484.2" stroke="#fff" stroke-width="1.7" /><path d="M58.5 478.2L61.5 484.2" stroke="#1c1c1c" stroke-width="0.7" /><path d="M60.6 477.4L62.4 477.4" stroke="#1c1c1c" stroke-width="0.6" /><path d="M59.3 498.8L63.7 498.8L61.5 502.8Z" stroke="#22dd22" stroke-width="0.5" fill="#22dd22" /><rect x="52.8" y="510.4" width="17.6" height="22.6" stroke="#383838" stroke-width="1.2" fill="#fff" rx="1"/><text class="b" x="54.5" y="520.18" font-size="6.6" fill="#19d6e6" textLength="14.2" lengthAdjust="spacingAndGlyphs">320kW</text><text class="b" x="54.5" y="527.92" font-size="7" fill="#19d6e6" textLength="14.2" lengthAdjust="spacingAndGlyphs">充电桩</text><path d="M81.4 465.3L81.4 510.4" stroke="#1c1c1c" stroke-width="1.0" /><path d="M81.4 477.4L81.4 484.2" stroke="#fff" stroke-width="1.7" /><path d="M78.4 478.2L81.4 484.2" stroke="#1c1c1c" stroke-width="0.7" /><path d="M80.5 477.4L82.3 477.4" stroke="#1c1c1c" stroke-width="0.6" /><path d="M79.2 498.8L83.6 498.8L81.4 502.8Z" stroke="#22dd22" stroke-width="0.5" fill="#22dd22" /><rect x="72.7" y="510.4" width="17.6" height="22.6" stroke="#383838" stroke-width="1.2" fill="#fff" rx="1"/><text class="b" x="74.4" y="520.18" font-size="6.6" fill="#19d6e6" textLength="14.2" lengthAdjust="spacingAndGlyphs">320kW</text><text class="b" x="74.4" y="527.92" font-size="7" fill="#19d6e6" textLength="14.2" lengthAdjust="spacingAndGlyphs">充电桩</text><path d="M101.5 465.3L101.5 510.4" stroke="#1c1c1c" stroke-width="1.0" /><path d="M101.5 477.4L101.5 484.2" stroke="#fff" stroke-width="1.7" /><path d="M98.5 478.2L101.5 484.2" stroke="#1c1c1c" stroke-width="0.7" /><path d="M100.6 477.4L102.4 477.4" stroke="#1c1c1c" stroke-width="0.6" /><path d="M99.3 498.8L103.7 498.8L101.5 502.8Z" stroke="#22dd22" stroke-width="0.5" fill="#22dd22" /><rect x="92.8" y="510.4" width="17.6" height="22.6" stroke="#383838" stroke-width="1.2" fill="#fff" rx="1"/><text class="b" x="95.1" y="524.05" font-size="6.8" fill="#19d6e6" textLength="13.2" lengthAdjust="spacingAndGlyphs">换电站</text><path d="M115.2 465.3L115.2 491.2" stroke="#1c1c1c" stroke-width="0.8" /><path d="M115.2 477.4L115.2 484.2" stroke="#fff" stroke-width="1.7" /><path d="M112.2 478.2L115.2 484.2" stroke="#1c1c1c" stroke-width="0.7" /><path d="M114.3 477.4L116.1 477.4" stroke="#1c1c1c" stroke-width="0.6" /><rect x="149.5" y="441.1" width="55.2" height="53.7" stroke="#2a2a2a" stroke-width="0.8" fill="none" stroke-dasharray="3.6 1.6"/><circle cx="168.2" cy="432.4" r="1.5" fill="#1c1c1c"/><path d="M168.2 432.4L168.2 569.4" stroke="#1c1c1c" stroke-width="0.9" /><text class="b" x="171.9" y="439.22" font-size="5.6" fill="#1c1c1c" textLength="26.9" lengthAdjust="spacingAndGlyphs">1#储能并网柜</text><path d="M168.2 447.4L168.2 454" stroke="#fff" stroke-width="1.7" /><path d="M165.2 448.2L168.2 454" stroke="#1c1c1c" stroke-width="0.7" /><path d="M167.3 447.4L169.1 447.4" stroke="#1c1c1c" stroke-width="0.6" /><rect x="158.9" y="457.5" width="31.9" height="9.3" stroke="#2a2a2a" stroke-width="0.7" fill="#fff" stroke-dasharray="2.4 1.2"/><path d="M160.9 462.15L177.9 462.15" stroke="#1c1c1c" stroke-width="0.8" /><path d="M162.3 462.15L164.2 460.25L166.1 462.15L164.2 464.05Z" stroke="#1c1c1c" stroke-width="0.9" fill="#fff" /><path d="M167.5 462.15L169.4 460.25L171.3 462.15L169.4 464.05Z" stroke="#1c1c1c" stroke-width="0.9" fill="#fff" /><path d="M172.7 462.15L174.6 460.25L176.5 462.15L174.6 464.05Z" stroke="#1c1c1c" stroke-width="0.9" fill="#fff" /><path d="M176.6 460.85L178.6 462.15L176.6 463.45Z" stroke="#1c1c1c" stroke-width="0.6" fill="#1c1c1c" /><text class="b" x="180.5" y="464.58" font-size="6.2" fill="#1c1c1c" textLength="9.7" lengthAdjust="spacingAndGlyphs">脱扣</text><path d="M168.2 457.5L168.2 466.8" stroke="#1c1c1c" stroke-width="0.8" /><path d="M167 471.8L169.4 474.2" stroke="#1c1c1c" stroke-width="0.6" /><path d="M167 474.2L169.4 471.8" stroke="#1c1c1c" stroke-width="0.6" /><path d="M168.2 474.4L168.2 481.2" stroke="#fff" stroke-width="1.7" /><path d="M165.2 475.2L168.2 481.2" stroke="#1c1c1c" stroke-width="0.7" /><path d="M167.3 474.4L169.1 474.4" stroke="#1c1c1c" stroke-width="0.6" /><text class="b" x="172.6" y="478.44" font-size="5.4" fill="#1c1c1c" textLength="21.8" lengthAdjust="spacingAndGlyphs">并网断路器</text><path d="M160.3 488.4L177.3 488.4" stroke="#1c1c1c" stroke-width="0.8" /><path d="M161.7 488.4L163.6 486.5L165.5 488.4L163.6 490.3Z" stroke="#1c1c1c" stroke-width="0.9" fill="#fff" /><path d="M166.9 488.4L168.8 486.5L170.7 488.4L168.8 490.3Z" stroke="#1c1c1c" stroke-width="0.9" fill="#fff" /><path d="M172.1 488.4L174 486.5L175.9 488.4L174 490.3Z" stroke="#1c1c1c" stroke-width="0.9" fill="#fff" /><path d="M176 487.1L178 488.4L176 489.7Z" stroke="#1c1c1c" stroke-width="0.6" fill="#1c1c1c" /><path d="M166 508.2L170.4 508.2L168.2 512.2Z" stroke="#22dd22" stroke-width="0.5" fill="#22dd22" /><rect x="237.2" y="441.1" width="55.2" height="53.7" stroke="#2a2a2a" stroke-width="0.8" fill="none" stroke-dasharray="3.6 1.6"/><circle cx="255.9" cy="432.4" r="1.5" fill="#1c1c1c"/><path d="M255.9 432.4L255.9 569.4" stroke="#1c1c1c" stroke-width="0.9" /><text class="b" x="259.6" y="439.22" font-size="5.6" fill="#1c1c1c" textLength="26.9" lengthAdjust="spacingAndGlyphs">2#储能并网柜</text><path d="M255.9 447.4L255.9 454" stroke="#fff" stroke-width="1.7" /><path d="M252.9 448.2L255.9 454" stroke="#1c1c1c" stroke-width="0.7" /><path d="M255 447.4L256.8 447.4" stroke="#1c1c1c" stroke-width="0.6" /><rect x="246.6" y="457.5" width="31.9" height="9.3" stroke="#2a2a2a" stroke-width="0.7" fill="#fff" stroke-dasharray="2.4 1.2"/><path d="M248.6 462.15L265.6 462.15" stroke="#1c1c1c" stroke-width="0.8" /><path d="M250 462.15L251.9 460.25L253.8 462.15L251.9 464.05Z" stroke="#1c1c1c" stroke-width="0.9" fill="#fff" /><path d="M255.2 462.15L257.1 460.25L259 462.15L257.1 464.05Z" stroke="#1c1c1c" stroke-width="0.9" fill="#fff" /><path d="M260.4 462.15L262.3 460.25L264.2 462.15L262.3 464.05Z" stroke="#1c1c1c" stroke-width="0.9" fill="#fff" /><path d="M264.3 460.85L266.3 462.15L264.3 463.45Z" stroke="#1c1c1c" stroke-width="0.6" fill="#1c1c1c" /><text class="b" x="268.2" y="464.58" font-size="6.2" fill="#1c1c1c" textLength="9.7" lengthAdjust="spacingAndGlyphs">脱扣</text><path d="M255.9 457.5L255.9 466.8" stroke="#1c1c1c" stroke-width="0.8" /><path d="M254.7 471.8L257.1 474.2" stroke="#1c1c1c" stroke-width="0.6" /><path d="M254.7 474.2L257.1 471.8" stroke="#1c1c1c" stroke-width="0.6" /><path d="M255.9 474.4L255.9 481.2" stroke="#fff" stroke-width="1.7" /><path d="M252.9 475.2L255.9 481.2" stroke="#1c1c1c" stroke-width="0.7" /><path d="M255 474.4L256.8 474.4" stroke="#1c1c1c" stroke-width="0.6" /><text class="b" x="260.3" y="478.44" font-size="5.4" fill="#1c1c1c" textLength="21.8" lengthAdjust="spacingAndGlyphs">并网断路器</text><path d="M248 488.4L265 488.4" stroke="#1c1c1c" stroke-width="0.8" /><path d="M249.4 488.4L251.3 486.5L253.2 488.4L251.3 490.3Z" stroke="#1c1c1c" stroke-width="0.9" fill="#fff" /><path d="M254.6 488.4L256.5 486.5L258.4 488.4L256.5 490.3Z" stroke="#1c1c1c" stroke-width="0.9" fill="#fff" /><path d="M259.8 488.4L261.7 486.5L263.6 488.4L261.7 490.3Z" stroke="#1c1c1c" stroke-width="0.9" fill="#fff" /><path d="M263.7 487.1L265.7 488.4L263.7 489.7Z" stroke="#1c1c1c" stroke-width="0.6" fill="#1c1c1c" /><path d="M253.7 508.2L258.1 508.2L255.9 512.2Z" stroke="#22dd22" stroke-width="0.5" fill="#22dd22" /><path d="M168.2 540.4L175.8 535.2L249.7 535.2L255.9 540.4" stroke="#1c1c1c" stroke-width="0.7" fill="none" /><text class="b" x="188" y="528.36" font-size="6" fill="#1c1c1c" textLength="51.8" lengthAdjust="spacingAndGlyphs">2×ZR-YJV22-0.6/1kV-</text><text class="b" x="188" y="534.16" font-size="6" fill="#1c1c1c" textLength="40.8" lengthAdjust="spacingAndGlyphs">3×300+1×150mm2</text><rect x="140.9" y="569.4" width="55.5" height="32" stroke="#2a2a2a" stroke-width="0.8" fill="#fff" /><text class="b" x="142.3" y="574.74" font-size="5.4" fill="#1c1c1c" textLength="18.4" lengthAdjust="spacingAndGlyphs">1#汇流柜</text><path d="M168.2 569.4L168.2 591.2" stroke="#1c1c1c" stroke-width="0.9" /><path d="M168.2 573.2L168.2 579" stroke="#fff" stroke-width="1.7" /><path d="M165.2 574L168.2 579" stroke="#1c1c1c" stroke-width="0.7" /><path d="M167.3 573.2L169.1 573.2" stroke="#1c1c1c" stroke-width="0.6" /><circle cx="163.2" cy="584" r="1.7" stroke="#1c1c1c" stroke-width="0.6" fill="#fff"/><path d="M163.2 581.4L163.2 586.6" stroke="#1c1c1c" stroke-width="0.6" /><circle cx="168.2" cy="584" r="1.7" stroke="#1c1c1c" stroke-width="0.6" fill="#fff"/><path d="M168.2 581.4L168.2 586.6" stroke="#1c1c1c" stroke-width="0.6" /><circle cx="173.2" cy="584" r="1.7" stroke="#1c1c1c" stroke-width="0.6" fill="#fff"/><path d="M173.2 581.4L173.2 586.6" stroke="#1c1c1c" stroke-width="0.6" /><path d="M148.6 591.2L187.3 591.2" stroke="#1c1c1c" stroke-width="0.8" /><path d="M154.6 591.2L154.6 637.2" stroke="#1c1c1c" stroke-width="0.9" /><path d="M154.6 592.8L154.6 598.8" stroke="#fff" stroke-width="1.7" /><path d="M151.6 593.6L154.6 598.8" stroke="#1c1c1c" stroke-width="0.7" /><path d="M153.7 592.8L155.5 592.8" stroke="#1c1c1c" stroke-width="0.6" /><path d="M152.9 606.8L156.3 606.8L154.6 610.2Z" stroke="#1c1c1c" stroke-width="0.5" fill="#1c1c1c" /><path d="M153.1 622.4L156.1 625.4" stroke="#1c1c1c" stroke-width="0.6" /><path d="M153.1 625.4L156.1 622.4" stroke="#1c1c1c" stroke-width="0.6" /><rect x="147.8" y="637.2" width="13.2" height="28.6" stroke="#2a2a2a" stroke-width="0.8" fill="#fff" /><path d="M154.6 637.2L154.6 648" stroke="#1c1c1c" stroke-width="0.8" /><path d="M154.6 640L154.6 644.6" stroke="#fff" stroke-width="1.7" /><path d="M151.6 640.8L154.6 644.6" stroke="#1c1c1c" stroke-width="0.7" /><path d="M153.7 640L155.5 640" stroke="#1c1c1c" stroke-width="0.6" /><rect x="150.6" y="648" width="7.4" height="6.4" stroke="#1c1c1c" stroke-width="0.8" fill="none" /><text class="b" x="151.3" y="652.6" font-size="3.6" fill="#1c1c1c" textLength="6.1" lengthAdjust="spacingAndGlyphs">BSW</text><rect x="150.3" y="655.4" width="8.1" height="7.2" stroke="#1c1c1c" stroke-width="0.7" fill="none" /><circle cx="154.4" cy="659" r="0.9" fill="#d01818"/><path d="M182.2 591.2L182.2 637.2" stroke="#1c1c1c" stroke-width="0.9" /><path d="M182.2 592.8L182.2 598.8" stroke="#fff" stroke-width="1.7" /><path d="M179.2 593.6L182.2 598.8" stroke="#1c1c1c" stroke-width="0.7" /><path d="M181.3 592.8L183.1 592.8" stroke="#1c1c1c" stroke-width="0.6" /><path d="M180.5 606.8L183.9 606.8L182.2 610.2Z" stroke="#1c1c1c" stroke-width="0.5" fill="#1c1c1c" /><path d="M180.7 622.4L183.7 625.4" stroke="#1c1c1c" stroke-width="0.6" /><path d="M180.7 625.4L183.7 622.4" stroke="#1c1c1c" stroke-width="0.6" /><rect x="175.4" y="637.2" width="13.2" height="28.6" stroke="#2a2a2a" stroke-width="0.8" fill="#fff" /><path d="M182.2 637.2L182.2 648" stroke="#1c1c1c" stroke-width="0.8" /><path d="M182.2 640L182.2 644.6" stroke="#fff" stroke-width="1.7" /><path d="M179.2 640.8L182.2 644.6" stroke="#1c1c1c" stroke-width="0.7" /><path d="M181.3 640L183.1 640" stroke="#1c1c1c" stroke-width="0.6" /><rect x="178.2" y="648" width="7.4" height="6.4" stroke="#1c1c1c" stroke-width="0.8" fill="none" /><text class="b" x="178.9" y="652.6" font-size="3.6" fill="#1c1c1c" textLength="6.1" lengthAdjust="spacingAndGlyphs">BSW</text><rect x="177.9" y="655.4" width="8.1" height="7.2" stroke="#1c1c1c" stroke-width="0.7" fill="none" /><circle cx="182" cy="659" r="0.9" fill="#d01818"/><circle cx="165.2" cy="650.3" r="0.8" fill="#1c1c1c"/><circle cx="168.5" cy="650.3" r="0.8" fill="#1c1c1c"/><circle cx="171.8" cy="650.3" r="0.8" fill="#1c1c1c"/><text class="b" x="156.4" y="681.56" font-size="6" fill="#1c1c1c" textLength="26.7" lengthAdjust="spacingAndGlyphs">1#储能系统</text><text class="a" x="149.2" y="690.98" font-size="6.6" fill="#1c1c1c" textLength="44.3" lengthAdjust="spacingAndGlyphs">0.5MW/1.075MWh</text><rect x="228.6" y="569.4" width="55.5" height="32" stroke="#2a2a2a" stroke-width="0.8" fill="#fff" /><text class="b" x="230" y="574.74" font-size="5.4" fill="#1c1c1c" textLength="18.4" lengthAdjust="spacingAndGlyphs">2#汇流柜</text><path d="M255.9 569.4L255.9 591.2" stroke="#1c1c1c" stroke-width="0.9" /><path d="M255.9 573.2L255.9 579" stroke="#fff" stroke-width="1.7" /><path d="M252.9 574L255.9 579" stroke="#1c1c1c" stroke-width="0.7" /><path d="M255 573.2L256.8 573.2" stroke="#1c1c1c" stroke-width="0.6" /><circle cx="250.9" cy="584" r="1.7" stroke="#1c1c1c" stroke-width="0.6" fill="#fff"/><path d="M250.9 581.4L250.9 586.6" stroke="#1c1c1c" stroke-width="0.6" /><circle cx="255.9" cy="584" r="1.7" stroke="#1c1c1c" stroke-width="0.6" fill="#fff"/><path d="M255.9 581.4L255.9 586.6" stroke="#1c1c1c" stroke-width="0.6" /><circle cx="260.9" cy="584" r="1.7" stroke="#1c1c1c" stroke-width="0.6" fill="#fff"/><path d="M260.9 581.4L260.9 586.6" stroke="#1c1c1c" stroke-width="0.6" /><path d="M236.3 591.2L275 591.2" stroke="#1c1c1c" stroke-width="0.8" /><path d="M242.3 591.2L242.3 637.2" stroke="#1c1c1c" stroke-width="0.9" /><path d="M242.3 592.8L242.3 598.8" stroke="#fff" stroke-width="1.7" /><path d="M239.3 593.6L242.3 598.8" stroke="#1c1c1c" stroke-width="0.7" /><path d="M241.4 592.8L243.2 592.8" stroke="#1c1c1c" stroke-width="0.6" /><path d="M240.6 606.8L244 606.8L242.3 610.2Z" stroke="#1c1c1c" stroke-width="0.5" fill="#1c1c1c" /><path d="M240.8 622.4L243.8 625.4" stroke="#1c1c1c" stroke-width="0.6" /><path d="M240.8 625.4L243.8 622.4" stroke="#1c1c1c" stroke-width="0.6" /><rect x="235.5" y="637.2" width="13.2" height="28.6" stroke="#2a2a2a" stroke-width="0.8" fill="#fff" /><path d="M242.3 637.2L242.3 648" stroke="#1c1c1c" stroke-width="0.8" /><path d="M242.3 640L242.3 644.6" stroke="#fff" stroke-width="1.7" /><path d="M239.3 640.8L242.3 644.6" stroke="#1c1c1c" stroke-width="0.7" /><path d="M241.4 640L243.2 640" stroke="#1c1c1c" stroke-width="0.6" /><rect x="238.3" y="648" width="7.4" height="6.4" stroke="#1c1c1c" stroke-width="0.8" fill="none" /><text class="b" x="239" y="652.6" font-size="3.6" fill="#1c1c1c" textLength="6.1" lengthAdjust="spacingAndGlyphs">BSW</text><rect x="238" y="655.4" width="8.1" height="7.2" stroke="#1c1c1c" stroke-width="0.7" fill="none" /><circle cx="242.1" cy="659" r="0.9" fill="#d01818"/><path d="M269.9 591.2L269.9 637.2" stroke="#1c1c1c" stroke-width="0.9" /><path d="M269.9 592.8L269.9 598.8" stroke="#fff" stroke-width="1.7" /><path d="M266.9 593.6L269.9 598.8" stroke="#1c1c1c" stroke-width="0.7" /><path d="M269 592.8L270.8 592.8" stroke="#1c1c1c" stroke-width="0.6" /><path d="M268.2 606.8L271.6 606.8L269.9 610.2Z" stroke="#1c1c1c" stroke-width="0.5" fill="#1c1c1c" /><path d="M268.4 622.4L271.4 625.4" stroke="#1c1c1c" stroke-width="0.6" /><path d="M268.4 625.4L271.4 622.4" stroke="#1c1c1c" stroke-width="0.6" /><rect x="263.1" y="637.2" width="13.2" height="28.6" stroke="#2a2a2a" stroke-width="0.8" fill="#fff" /><path d="M269.9 637.2L269.9 648" stroke="#1c1c1c" stroke-width="0.8" /><path d="M269.9 640L269.9 644.6" stroke="#fff" stroke-width="1.7" /><path d="M266.9 640.8L269.9 644.6" stroke="#1c1c1c" stroke-width="0.7" /><path d="M269 640L270.8 640" stroke="#1c1c1c" stroke-width="0.6" /><rect x="265.9" y="648" width="7.4" height="6.4" stroke="#1c1c1c" stroke-width="0.8" fill="none" /><text class="b" x="266.6" y="652.6" font-size="3.6" fill="#1c1c1c" textLength="6.1" lengthAdjust="spacingAndGlyphs">BSW</text><rect x="265.6" y="655.4" width="8.1" height="7.2" stroke="#1c1c1c" stroke-width="0.7" fill="none" /><circle cx="269.7" cy="659" r="0.9" fill="#d01818"/><circle cx="252.9" cy="650.3" r="0.8" fill="#1c1c1c"/><circle cx="256.2" cy="650.3" r="0.8" fill="#1c1c1c"/><circle cx="259.5" cy="650.3" r="0.8" fill="#1c1c1c"/><text class="b" x="244.1" y="681.56" font-size="6" fill="#1c1c1c" textLength="26.7" lengthAdjust="spacingAndGlyphs">2#储能系统</text><text class="a" x="236.9" y="690.98" font-size="6.6" fill="#1c1c1c" textLength="44.3" lengthAdjust="spacingAndGlyphs">0.5MW/1.075MWh</text><path d="M153.2 623.9L183.6 623.9C186.2 623.9 187.2 622 189.79999999999998 622L236.5 622C238.9 622 239.9 623.9 242.3 623.9L271.5 623.9" stroke="#1c1c1c" stroke-width="0.8"/><text class="b" x="191" y="615.16" font-size="6" fill="#1c1c1c" textLength="45.3" lengthAdjust="spacingAndGlyphs">ZR-YJV22-0.6/1kV-</text><text class="b" x="195.8" y="620.66" font-size="6" fill="#1c1c1c" textLength="32.4" lengthAdjust="spacingAndGlyphs">3×70+1×35mm2</text><rect x="350.3" y="445.3" width="85.4" height="48.9" stroke="#2a2a2a" stroke-width="0.8" fill="none" stroke-dasharray="3.6 1.6"/><circle cx="386.2" cy="432.4" r="1.5" fill="#1c1c1c"/><path d="M386.2 432.4L386.2 468.2" stroke="#1c1c1c" stroke-width="0.8" /><path d="M386.2 447.4L386.2 453.4" stroke="#fff" stroke-width="1.7" /><path d="M383.2 448.2L386.2 453.4" stroke="#1c1c1c" stroke-width="0.7" /><path d="M385.3 447.4L387.1 447.4" stroke="#1c1c1c" stroke-width="0.6" /><rect x="376.8" y="455.5" width="32" height="9.3" stroke="#2a2a2a" stroke-width="0.7" fill="#fff" stroke-dasharray="2.4 1.2"/><path d="M378.8 460.15L395.8 460.15" stroke="#1c1c1c" stroke-width="0.8" /><path d="M380.2 460.15L382.1 458.25L384 460.15L382.1 462.05Z" stroke="#1c1c1c" stroke-width="0.9" fill="#fff" /><path d="M385.4 460.15L387.3 458.25L389.2 460.15L387.3 462.05Z" stroke="#1c1c1c" stroke-width="0.9" fill="#fff" /><path d="M390.6 460.15L392.5 458.25L394.4 460.15L392.5 462.05Z" stroke="#1c1c1c" stroke-width="0.9" fill="#fff" /><path d="M394.5 458.85L396.5 460.15L394.5 461.45Z" stroke="#1c1c1c" stroke-width="0.6" fill="#1c1c1c" /><text class="b" x="398.4" y="462.58" font-size="6.2" fill="#1c1c1c" textLength="9.8" lengthAdjust="spacingAndGlyphs">脱扣</text><path d="M386.2 455.5L386.2 468.2" stroke="#1c1c1c" stroke-width="0.8" /><path d="M354.9 468.2L429.4 468.2" stroke="#1c1c1c" stroke-width="0.9" /><circle cx="381.8" cy="482.6" r="0.8" fill="#1c1c1c"/><circle cx="384.9" cy="482.6" r="0.8" fill="#1c1c1c"/><circle cx="388" cy="482.6" r="0.8" fill="#1c1c1c"/><path d="M365 468.2L365 521.3" stroke="#1c1c1c" stroke-width="1.0" /><path d="M365 478.6L365 485.2" stroke="#fff" stroke-width="1.7" /><path d="M362 479.4L365 485.2" stroke="#1c1c1c" stroke-width="0.7" /><path d="M364.1 478.6L365.9 478.6" stroke="#1c1c1c" stroke-width="0.6" /><path d="M362.8 497.8L367.2 497.8L365 501.8Z" stroke="#22dd22" stroke-width="0.5" fill="#22dd22" /><rect x="356.4" y="521.3" width="17.4" height="17.2" stroke="#2a2a2a" stroke-width="0.9" fill="#fff" /><path d="M356.4 538.5L373.8 521.3" stroke="#1c1c1c" stroke-width="0.8" /><text class="b" x="358.8" y="531.76" font-size="6" fill="#1c1c1c" textLength="3.6" lengthAdjust="spacingAndGlyphs">~</text><path d="M369.2 531.2L371.4 531.2" stroke="#1c1c1c" stroke-width="0.7" /><path d="M369.2 532.6L371.4 532.6" stroke="#1c1c1c" stroke-width="0.7" /><path d="M362.8 539.6L367.2 539.6L365 543.6Z" stroke="#22dd22" stroke-width="0.5" fill="#22dd22" /><path d="M365 538.5L365 549.4" stroke="#1c1c1c" stroke-width="0.9" /><path d="M356.6 560.3L356.6 549.4L373.6 549.4L373.6 560.3" stroke="#1c1c1c" stroke-width="0.8" fill="none" /><circle cx="362.4" cy="553.6" r="0.75" fill="#1c1c1c"/><circle cx="365.2" cy="553.6" r="0.75" fill="#1c1c1c"/><circle cx="368" cy="553.6" r="0.75" fill="#1c1c1c"/><rect x="352.8" y="560.3" width="7.4" height="12.8" stroke="#2a2a2a" stroke-width="0.8" fill="#fff" /><rect x="370.2" y="560.3" width="7.2" height="12.8" stroke="#2a2a2a" stroke-width="0.8" fill="#fff" /><path d="M404 468.2L404 521.3" stroke="#1c1c1c" stroke-width="1.0" /><path d="M404 478.6L404 485.2" stroke="#fff" stroke-width="1.7" /><path d="M401 479.4L404 485.2" stroke="#1c1c1c" stroke-width="0.7" /><path d="M403.1 478.6L404.9 478.6" stroke="#1c1c1c" stroke-width="0.6" /><path d="M401.8 497.8L406.2 497.8L404 501.8Z" stroke="#22dd22" stroke-width="0.5" fill="#22dd22" /><rect x="395.4" y="521.3" width="17.4" height="17.2" stroke="#2a2a2a" stroke-width="0.9" fill="#fff" /><path d="M395.4 538.5L412.8 521.3" stroke="#1c1c1c" stroke-width="0.8" /><text class="b" x="397.8" y="531.76" font-size="6" fill="#1c1c1c" textLength="3.6" lengthAdjust="spacingAndGlyphs">~</text><path d="M408.2 531.2L410.4 531.2" stroke="#1c1c1c" stroke-width="0.7" /><path d="M408.2 532.6L410.4 532.6" stroke="#1c1c1c" stroke-width="0.7" /><path d="M401.8 539.6L406.2 539.6L404 543.6Z" stroke="#22dd22" stroke-width="0.5" fill="#22dd22" /><path d="M404 538.5L404 549.4" stroke="#1c1c1c" stroke-width="0.9" /><path d="M395.6 560.3L395.6 549.4L412.6 549.4L412.6 560.3" stroke="#1c1c1c" stroke-width="0.8" fill="none" /><circle cx="401.4" cy="553.6" r="0.75" fill="#1c1c1c"/><circle cx="404.2" cy="553.6" r="0.75" fill="#1c1c1c"/><circle cx="407" cy="553.6" r="0.75" fill="#1c1c1c"/><rect x="391.8" y="560.3" width="7.4" height="12.8" stroke="#2a2a2a" stroke-width="0.8" fill="#fff" /><rect x="409.2" y="560.3" width="7.2" height="12.8" stroke="#2a2a2a" stroke-width="0.8" fill="#fff" /><path d="M417.8 468.2L417.8 494.2" stroke="#1c1c1c" stroke-width="0.8" /><path d="M417.8 478.6L417.8 485.2" stroke="#fff" stroke-width="1.7" /><path d="M414.8 479.4L417.8 485.2" stroke="#1c1c1c" stroke-width="0.7" /><path d="M416.9 478.6L418.7 478.6" stroke="#1c1c1c" stroke-width="0.6" /><circle cx="382" cy="529.8" r="0.8" fill="#1c1c1c"/><circle cx="385.1" cy="529.8" r="0.8" fill="#1c1c1c"/><circle cx="388.2" cy="529.8" r="0.8" fill="#1c1c1c"/><text class="a" x="368.6" y="516.7" font-size="6.4" fill="#1c1c1c" textLength="6.8" lengthAdjust="spacingAndGlyphs">N1</text><text class="a" x="407.5" y="516.7" font-size="6.4" fill="#1c1c1c" textLength="9.6" lengthAdjust="spacingAndGlyphs">N10</text><path d="M338.6 519.4L301.8 519.4L301.8 572.2L338.6 572.2" stroke="#1c1c1c" stroke-width="0.8" fill="none" /><path d="M301.8 545.8L338.6 545.8" stroke="#1c1c1c" stroke-width="0.8" /><text class="b" x="305" y="528.36" font-size="6" fill="#1c1c1c" textLength="26.8" lengthAdjust="spacingAndGlyphs">组串式逆变器</text><text class="b" x="305" y="538.03" font-size="6.2" fill="#1c1c1c" textLength="45.8" lengthAdjust="spacingAndGlyphs">100kW、110kW、125kW</text><text class="b" x="305" y="557.06" font-size="6" fill="#1c1c1c" textLength="18.6" lengthAdjust="spacingAndGlyphs">光伏组件</text><text class="b" x="305" y="564.53" font-size="6.2" fill="#1c1c1c" textLength="20" lengthAdjust="spacingAndGlyphs">PW:600Wp</text><text class="b" x="371.4" y="593.38" font-size="6.6" fill="#1c1c1c" textLength="35.4" lengthAdjust="spacingAndGlyphs">N1-N10逆变器</text><text class="b" x="366.8" y="601.78" font-size="6.6" fill="#1c1c1c" textLength="45" lengthAdjust="spacingAndGlyphs">交流容量:1140kW</text><rect x="476.9" y="445.4" width="98.4" height="45.8" stroke="#2a2a2a" stroke-width="0.8" fill="none" stroke-dasharray="3.6 1.6"/><circle cx="523" cy="432.4" r="1.5" fill="#1c1c1c"/><path d="M523 432.4L523 465.3" stroke="#1c1c1c" stroke-width="0.8" /><path d="M523 447.6L523 453.6" stroke="#fff" stroke-width="1.7" /><path d="M520 448.4L523 453.6" stroke="#1c1c1c" stroke-width="0.7" /><path d="M522.1 447.6L523.9 447.6" stroke="#1c1c1c" stroke-width="0.6" /><rect x="513.8" y="455.6" width="31.8" height="9" stroke="#2a2a2a" stroke-width="0.7" fill="#fff" stroke-dasharray="2.4 1.2"/><path d="M515.8 460.1L532.8 460.1" stroke="#1c1c1c" stroke-width="0.8" /><path d="M517.2 460.1L519.1 458.2L521 460.1L519.1 462Z" stroke="#1c1c1c" stroke-width="0.9" fill="#fff" /><path d="M522.4 460.1L524.3 458.2L526.2 460.1L524.3 462Z" stroke="#1c1c1c" stroke-width="0.9" fill="#fff" /><path d="M527.6 460.1L529.5 458.2L531.4 460.1L529.5 462Z" stroke="#1c1c1c" stroke-width="0.9" fill="#fff" /><path d="M531.5 458.8L533.5 460.1L531.5 461.4Z" stroke="#1c1c1c" stroke-width="0.6" fill="#1c1c1c" /><text class="b" x="535.4" y="462.53" font-size="6.2" fill="#1c1c1c" textLength="9.6" lengthAdjust="spacingAndGlyphs">脱扣</text><path d="M523 455.6L523 465.3" stroke="#1c1c1c" stroke-width="0.8" /><path d="M484.6 465.3L566.2 465.3" stroke="#1c1c1c" stroke-width="0.9" /><path d="M489.4 465.3L489.4 531.1" stroke="#1c1c1c" stroke-width="1.0" /><path d="M489.4 477.4L489.4 484.2" stroke="#fff" stroke-width="1.7" /><path d="M486.4 478.2L489.4 484.2" stroke="#1c1c1c" stroke-width="0.7" /><path d="M488.5 477.4L490.3 477.4" stroke="#1c1c1c" stroke-width="0.6" /><path d="M487.2 498.8L491.6 498.8L489.4 502.8Z" stroke="#22dd22" stroke-width="0.5" fill="#22dd22" /><rect x="480.7" y="531.1" width="17.6" height="22.6" stroke="#383838" stroke-width="1.2" fill="#fff" rx="1"/><text class="b" x="482.4" y="540.88" font-size="6.6" fill="#19d6e6" textLength="14.2" lengthAdjust="spacingAndGlyphs">320kW</text><text class="b" x="482.4" y="548.62" font-size="7" fill="#19d6e6" textLength="14.2" lengthAdjust="spacingAndGlyphs">充电桩</text><path d="M509.6 465.3L509.6 531.1" stroke="#1c1c1c" stroke-width="1.0" /><path d="M509.6 477.4L509.6 484.2" stroke="#fff" stroke-width="1.7" /><path d="M506.6 478.2L509.6 484.2" stroke="#1c1c1c" stroke-width="0.7" /><path d="M508.7 477.4L510.5 477.4" stroke="#1c1c1c" stroke-width="0.6" /><path d="M507.4 498.8L511.8 498.8L509.6 502.8Z" stroke="#22dd22" stroke-width="0.5" fill="#22dd22" /><rect x="500.9" y="531.1" width="17.6" height="22.6" stroke="#383838" stroke-width="1.2" fill="#fff" rx="1"/><text class="b" x="502.6" y="540.88" font-size="6.6" fill="#19d6e6" textLength="14.2" lengthAdjust="spacingAndGlyphs">320kW</text><text class="b" x="502.6" y="548.62" font-size="7" fill="#19d6e6" textLength="14.2" lengthAdjust="spacingAndGlyphs">充电桩</text><path d="M529.8 465.3L529.8 531.1" stroke="#1c1c1c" stroke-width="1.0" /><path d="M529.8 477.4L529.8 484.2" stroke="#fff" stroke-width="1.7" /><path d="M526.8 478.2L529.8 484.2" stroke="#1c1c1c" stroke-width="0.7" /><path d="M528.9 477.4L530.7 477.4" stroke="#1c1c1c" stroke-width="0.6" /><path d="M527.6 498.8L532 498.8L529.8 502.8Z" stroke="#22dd22" stroke-width="0.5" fill="#22dd22" /><rect x="521.1" y="531.1" width="17.6" height="22.6" stroke="#383838" stroke-width="1.2" fill="#fff" rx="1"/><text class="b" x="522.8" y="540.88" font-size="6.6" fill="#19d6e6" textLength="14.2" lengthAdjust="spacingAndGlyphs">320kW</text><text class="b" x="522.8" y="548.62" font-size="7" fill="#19d6e6" textLength="14.2" lengthAdjust="spacingAndGlyphs">充电桩</text><path d="M549.4 465.3L549.4 531.1" stroke="#1c1c1c" stroke-width="1.0" /><path d="M549.4 477.4L549.4 484.2" stroke="#fff" stroke-width="1.7" /><path d="M546.4 478.2L549.4 484.2" stroke="#1c1c1c" stroke-width="0.7" /><path d="M548.5 477.4L550.3 477.4" stroke="#1c1c1c" stroke-width="0.6" /><path d="M547.2 498.8L551.6 498.8L549.4 502.8Z" stroke="#22dd22" stroke-width="0.5" fill="#22dd22" /><rect x="540.7" y="531.1" width="17.6" height="22.6" stroke="#383838" stroke-width="1.2" fill="#fff" rx="1"/><text class="b" x="542.4" y="540.88" font-size="6.6" fill="#19d6e6" textLength="14.2" lengthAdjust="spacingAndGlyphs">320kW</text><text class="b" x="542.4" y="548.62" font-size="7" fill="#19d6e6" textLength="14.2" lengthAdjust="spacingAndGlyphs">充电桩</text><path d="M560.8 465.3L560.8 491.2" stroke="#1c1c1c" stroke-width="0.8" /><path d="M560.8 477.4L560.8 484.2" stroke="#fff" stroke-width="1.7" /><path d="M557.8 478.2L560.8 484.2" stroke="#1c1c1c" stroke-width="0.7" /><path d="M559.9 477.4L561.7 477.4" stroke="#1c1c1c" stroke-width="0.6" /><rect x="603.7" y="441.1" width="55.2" height="53.7" stroke="#2a2a2a" stroke-width="0.8" fill="none" stroke-dasharray="3.6 1.6"/><circle cx="622.4" cy="432.4" r="1.5" fill="#1c1c1c"/><path d="M622.4 432.4L622.4 569.4" stroke="#1c1c1c" stroke-width="0.9" /><text class="b" x="626.1" y="439.22" font-size="5.6" fill="#1c1c1c" textLength="26.9" lengthAdjust="spacingAndGlyphs">3#储能并网柜</text><path d="M622.4 447.4L622.4 454" stroke="#fff" stroke-width="1.7" /><path d="M619.4 448.2L622.4 454" stroke="#1c1c1c" stroke-width="0.7" /><path d="M621.5 447.4L623.3 447.4" stroke="#1c1c1c" stroke-width="0.6" /><rect x="613.1" y="457.5" width="31.9" height="9.3" stroke="#2a2a2a" stroke-width="0.7" fill="#fff" stroke-dasharray="2.4 1.2"/><path d="M615.1 462.15L632.1 462.15" stroke="#1c1c1c" stroke-width="0.8" /><path d="M616.5 462.15L618.4 460.25L620.3 462.15L618.4 464.05Z" stroke="#1c1c1c" stroke-width="0.9" fill="#fff" /><path d="M621.7 462.15L623.6 460.25L625.5 462.15L623.6 464.05Z" stroke="#1c1c1c" stroke-width="0.9" fill="#fff" /><path d="M626.9 462.15L628.8 460.25L630.7 462.15L628.8 464.05Z" stroke="#1c1c1c" stroke-width="0.9" fill="#fff" /><path d="M630.8 460.85L632.8 462.15L630.8 463.45Z" stroke="#1c1c1c" stroke-width="0.6" fill="#1c1c1c" /><text class="b" x="634.7" y="464.58" font-size="6.2" fill="#1c1c1c" textLength="9.7" lengthAdjust="spacingAndGlyphs">脱扣</text><path d="M622.4 457.5L622.4 466.8" stroke="#1c1c1c" stroke-width="0.8" /><path d="M621.2 471.8L623.6 474.2" stroke="#1c1c1c" stroke-width="0.6" /><path d="M621.2 474.2L623.6 471.8" stroke="#1c1c1c" stroke-width="0.6" /><path d="M622.4 474.4L622.4 481.2" stroke="#fff" stroke-width="1.7" /><path d="M619.4 475.2L622.4 481.2" stroke="#1c1c1c" stroke-width="0.7" /><path d="M621.5 474.4L623.3 474.4" stroke="#1c1c1c" stroke-width="0.6" /><text class="b" x="626.8" y="478.44" font-size="5.4" fill="#1c1c1c" textLength="21.8" lengthAdjust="spacingAndGlyphs">并网断路器</text><path d="M614.5 488.4L631.5 488.4" stroke="#1c1c1c" stroke-width="0.8" /><path d="M615.9 488.4L617.8 486.5L619.7 488.4L617.8 490.3Z" stroke="#1c1c1c" stroke-width="0.9" fill="#fff" /><path d="M621.1 488.4L623 486.5L624.9 488.4L623 490.3Z" stroke="#1c1c1c" stroke-width="0.9" fill="#fff" /><path d="M626.3 488.4L628.2 486.5L630.1 488.4L628.2 490.3Z" stroke="#1c1c1c" stroke-width="0.9" fill="#fff" /><path d="M630.2 487.1L632.2 488.4L630.2 489.7Z" stroke="#1c1c1c" stroke-width="0.6" fill="#1c1c1c" /><path d="M620.2 508.2L624.6 508.2L622.4 512.2Z" stroke="#22dd22" stroke-width="0.5" fill="#22dd22" /><rect x="691.4" y="441.1" width="55.2" height="53.7" stroke="#2a2a2a" stroke-width="0.8" fill="none" stroke-dasharray="3.6 1.6"/><circle cx="710.1" cy="432.4" r="1.5" fill="#1c1c1c"/><path d="M710.1 432.4L710.1 569.4" stroke="#1c1c1c" stroke-width="0.9" /><text class="b" x="713.8" y="439.22" font-size="5.6" fill="#1c1c1c" textLength="26.9" lengthAdjust="spacingAndGlyphs">4#储能并网柜</text><path d="M710.1 447.4L710.1 454" stroke="#fff" stroke-width="1.7" /><path d="M707.1 448.2L710.1 454" stroke="#1c1c1c" stroke-width="0.7" /><path d="M709.2 447.4L711 447.4" stroke="#1c1c1c" stroke-width="0.6" /><rect x="700.8" y="457.5" width="31.9" height="9.3" stroke="#2a2a2a" stroke-width="0.7" fill="#fff" stroke-dasharray="2.4 1.2"/><path d="M702.8 462.15L719.8 462.15" stroke="#1c1c1c" stroke-width="0.8" /><path d="M704.2 462.15L706.1 460.25L708 462.15L706.1 464.05Z" stroke="#1c1c1c" stroke-width="0.9" fill="#fff" /><path d="M709.4 462.15L711.3 460.25L713.2 462.15L711.3 464.05Z" stroke="#1c1c1c" stroke-width="0.9" fill="#fff" /><path d="M714.6 462.15L716.5 460.25L718.4 462.15L716.5 464.05Z" stroke="#1c1c1c" stroke-width="0.9" fill="#fff" /><path d="M718.5 460.85L720.5 462.15L718.5 463.45Z" stroke="#1c1c1c" stroke-width="0.6" fill="#1c1c1c" /><text class="b" x="722.4" y="464.58" font-size="6.2" fill="#1c1c1c" textLength="9.7" lengthAdjust="spacingAndGlyphs">脱扣</text><path d="M710.1 457.5L710.1 466.8" stroke="#1c1c1c" stroke-width="0.8" /><path d="M708.9 471.8L711.3 474.2" stroke="#1c1c1c" stroke-width="0.6" /><path d="M708.9 474.2L711.3 471.8" stroke="#1c1c1c" stroke-width="0.6" /><path d="M710.1 474.4L710.1 481.2" stroke="#fff" stroke-width="1.7" /><path d="M707.1 475.2L710.1 481.2" stroke="#1c1c1c" stroke-width="0.7" /><path d="M709.2 474.4L711 474.4" stroke="#1c1c1c" stroke-width="0.6" /><text class="b" x="714.5" y="478.44" font-size="5.4" fill="#1c1c1c" textLength="21.8" lengthAdjust="spacingAndGlyphs">并网断路器</text><path d="M702.2 488.4L719.2 488.4" stroke="#1c1c1c" stroke-width="0.8" /><path d="M703.6 488.4L705.5 486.5L707.4 488.4L705.5 490.3Z" stroke="#1c1c1c" stroke-width="0.9" fill="#fff" /><path d="M708.8 488.4L710.7 486.5L712.6 488.4L710.7 490.3Z" stroke="#1c1c1c" stroke-width="0.9" fill="#fff" /><path d="M714 488.4L715.9 486.5L717.8 488.4L715.9 490.3Z" stroke="#1c1c1c" stroke-width="0.9" fill="#fff" /><path d="M717.9 487.1L719.9 488.4L717.9 489.7Z" stroke="#1c1c1c" stroke-width="0.6" fill="#1c1c1c" /><path d="M707.9 508.2L712.3 508.2L710.1 512.2Z" stroke="#22dd22" stroke-width="0.5" fill="#22dd22" /><path d="M622.4 540.4L630 535.2L703.9 535.2L710.1 540.4" stroke="#1c1c1c" stroke-width="0.7" fill="none" /><text class="b" x="642.2" y="528.36" font-size="6" fill="#1c1c1c" textLength="51.8" lengthAdjust="spacingAndGlyphs">2×ZR-YJV22-0.6/1kV-</text><text class="b" x="642.2" y="534.16" font-size="6" fill="#1c1c1c" textLength="40.8" lengthAdjust="spacingAndGlyphs">3×300+1×150mm2</text><rect x="595.1" y="569.4" width="55.5" height="32" stroke="#2a2a2a" stroke-width="0.8" fill="#fff" /><text class="b" x="596.5" y="574.74" font-size="5.4" fill="#1c1c1c" textLength="18.4" lengthAdjust="spacingAndGlyphs">3#汇流柜</text><path d="M622.4 569.4L622.4 591.2" stroke="#1c1c1c" stroke-width="0.9" /><path d="M622.4 573.2L622.4 579" stroke="#fff" stroke-width="1.7" /><path d="M619.4 574L622.4 579" stroke="#1c1c1c" stroke-width="0.7" /><path d="M621.5 573.2L623.3 573.2" stroke="#1c1c1c" stroke-width="0.6" /><circle cx="617.4" cy="584" r="1.7" stroke="#1c1c1c" stroke-width="0.6" fill="#fff"/><path d="M617.4 581.4L617.4 586.6" stroke="#1c1c1c" stroke-width="0.6" /><circle cx="622.4" cy="584" r="1.7" stroke="#1c1c1c" stroke-width="0.6" fill="#fff"/><path d="M622.4 581.4L622.4 586.6" stroke="#1c1c1c" stroke-width="0.6" /><circle cx="627.4" cy="584" r="1.7" stroke="#1c1c1c" stroke-width="0.6" fill="#fff"/><path d="M627.4 581.4L627.4 586.6" stroke="#1c1c1c" stroke-width="0.6" /><path d="M602.8 591.2L641.5 591.2" stroke="#1c1c1c" stroke-width="0.8" /><path d="M608.8 591.2L608.8 637.2" stroke="#1c1c1c" stroke-width="0.9" /><path d="M608.8 592.8L608.8 598.8" stroke="#fff" stroke-width="1.7" /><path d="M605.8 593.6L608.8 598.8" stroke="#1c1c1c" stroke-width="0.7" /><path d="M607.9 592.8L609.7 592.8" stroke="#1c1c1c" stroke-width="0.6" /><path d="M607.1 606.8L610.5 606.8L608.8 610.2Z" stroke="#1c1c1c" stroke-width="0.5" fill="#1c1c1c" /><path d="M607.3 622.4L610.3 625.4" stroke="#1c1c1c" stroke-width="0.6" /><path d="M607.3 625.4L610.3 622.4" stroke="#1c1c1c" stroke-width="0.6" /><rect x="602" y="637.2" width="13.2" height="28.6" stroke="#2a2a2a" stroke-width="0.8" fill="#fff" /><path d="M608.8 637.2L608.8 648" stroke="#1c1c1c" stroke-width="0.8" /><path d="M608.8 640L608.8 644.6" stroke="#fff" stroke-width="1.7" /><path d="M605.8 640.8L608.8 644.6" stroke="#1c1c1c" stroke-width="0.7" /><path d="M607.9 640L609.7 640" stroke="#1c1c1c" stroke-width="0.6" /><rect x="604.8" y="648" width="7.4" height="6.4" stroke="#1c1c1c" stroke-width="0.8" fill="none" /><text class="b" x="605.5" y="652.6" font-size="3.6" fill="#1c1c1c" textLength="6.1" lengthAdjust="spacingAndGlyphs">BSW</text><rect x="604.5" y="655.4" width="8.1" height="7.2" stroke="#1c1c1c" stroke-width="0.7" fill="none" /><circle cx="608.6" cy="659" r="0.9" fill="#d01818"/><path d="M636.4 591.2L636.4 637.2" stroke="#1c1c1c" stroke-width="0.9" /><path d="M636.4 592.8L636.4 598.8" stroke="#fff" stroke-width="1.7" /><path d="M633.4 593.6L636.4 598.8" stroke="#1c1c1c" stroke-width="0.7" /><path d="M635.5 592.8L637.3 592.8" stroke="#1c1c1c" stroke-width="0.6" /><path d="M634.7 606.8L638.1 606.8L636.4 610.2Z" stroke="#1c1c1c" stroke-width="0.5" fill="#1c1c1c" /><path d="M634.9 622.4L637.9 625.4" stroke="#1c1c1c" stroke-width="0.6" /><path d="M634.9 625.4L637.9 622.4" stroke="#1c1c1c" stroke-width="0.6" /><rect x="629.6" y="637.2" width="13.2" height="28.6" stroke="#2a2a2a" stroke-width="0.8" fill="#fff" /><path d="M636.4 637.2L636.4 648" stroke="#1c1c1c" stroke-width="0.8" /><path d="M636.4 640L636.4 644.6" stroke="#fff" stroke-width="1.7" /><path d="M633.4 640.8L636.4 644.6" stroke="#1c1c1c" stroke-width="0.7" /><path d="M635.5 640L637.3 640" stroke="#1c1c1c" stroke-width="0.6" /><rect x="632.4" y="648" width="7.4" height="6.4" stroke="#1c1c1c" stroke-width="0.8" fill="none" /><text class="b" x="633.1" y="652.6" font-size="3.6" fill="#1c1c1c" textLength="6.1" lengthAdjust="spacingAndGlyphs">BSW</text><rect x="632.1" y="655.4" width="8.1" height="7.2" stroke="#1c1c1c" stroke-width="0.7" fill="none" /><circle cx="636.2" cy="659" r="0.9" fill="#d01818"/><circle cx="619.4" cy="650.3" r="0.8" fill="#1c1c1c"/><circle cx="622.7" cy="650.3" r="0.8" fill="#1c1c1c"/><circle cx="626" cy="650.3" r="0.8" fill="#1c1c1c"/><text class="b" x="610.6" y="681.56" font-size="6" fill="#1c1c1c" textLength="26.7" lengthAdjust="spacingAndGlyphs">3#储能系统</text><text class="a" x="603.4" y="690.98" font-size="6.6" fill="#1c1c1c" textLength="44.3" lengthAdjust="spacingAndGlyphs">0.5MW/1.075MWh</text><rect x="682.8" y="569.4" width="55.5" height="32" stroke="#2a2a2a" stroke-width="0.8" fill="#fff" /><text class="b" x="684.2" y="574.74" font-size="5.4" fill="#1c1c1c" textLength="18.4" lengthAdjust="spacingAndGlyphs">4#汇流柜</text><path d="M710.1 569.4L710.1 591.2" stroke="#1c1c1c" stroke-width="0.9" /><path d="M710.1 573.2L710.1 579" stroke="#fff" stroke-width="1.7" /><path d="M707.1 574L710.1 579" stroke="#1c1c1c" stroke-width="0.7" /><path d="M709.2 573.2L711 573.2" stroke="#1c1c1c" stroke-width="0.6" /><circle cx="705.1" cy="584" r="1.7" stroke="#1c1c1c" stroke-width="0.6" fill="#fff"/><path d="M705.1 581.4L705.1 586.6" stroke="#1c1c1c" stroke-width="0.6" /><circle cx="710.1" cy="584" r="1.7" stroke="#1c1c1c" stroke-width="0.6" fill="#fff"/><path d="M710.1 581.4L710.1 586.6" stroke="#1c1c1c" stroke-width="0.6" /><circle cx="715.1" cy="584" r="1.7" stroke="#1c1c1c" stroke-width="0.6" fill="#fff"/><path d="M715.1 581.4L715.1 586.6" stroke="#1c1c1c" stroke-width="0.6" /><path d="M690.5 591.2L729.2 591.2" stroke="#1c1c1c" stroke-width="0.8" /><path d="M696.5 591.2L696.5 637.2" stroke="#1c1c1c" stroke-width="0.9" /><path d="M696.5 592.8L696.5 598.8" stroke="#fff" stroke-width="1.7" /><path d="M693.5 593.6L696.5 598.8" stroke="#1c1c1c" stroke-width="0.7" /><path d="M695.6 592.8L697.4 592.8" stroke="#1c1c1c" stroke-width="0.6" /><path d="M694.8 606.8L698.2 606.8L696.5 610.2Z" stroke="#1c1c1c" stroke-width="0.5" fill="#1c1c1c" /><path d="M695 622.4L698 625.4" stroke="#1c1c1c" stroke-width="0.6" /><path d="M695 625.4L698 622.4" stroke="#1c1c1c" stroke-width="0.6" /><rect x="689.7" y="637.2" width="13.2" height="28.6" stroke="#2a2a2a" stroke-width="0.8" fill="#fff" /><path d="M696.5 637.2L696.5 648" stroke="#1c1c1c" stroke-width="0.8" /><path d="M696.5 640L696.5 644.6" stroke="#fff" stroke-width="1.7" /><path d="M693.5 640.8L696.5 644.6" stroke="#1c1c1c" stroke-width="0.7" /><path d="M695.6 640L697.4 640" stroke="#1c1c1c" stroke-width="0.6" /><rect x="692.5" y="648" width="7.4" height="6.4" stroke="#1c1c1c" stroke-width="0.8" fill="none" /><text class="b" x="693.2" y="652.6" font-size="3.6" fill="#1c1c1c" textLength="6.1" lengthAdjust="spacingAndGlyphs">BSW</text><rect x="692.2" y="655.4" width="8.1" height="7.2" stroke="#1c1c1c" stroke-width="0.7" fill="none" /><circle cx="696.3" cy="659" r="0.9" fill="#d01818"/><path d="M724.1 591.2L724.1 637.2" stroke="#1c1c1c" stroke-width="0.9" /><path d="M724.1 592.8L724.1 598.8" stroke="#fff" stroke-width="1.7" /><path d="M721.1 593.6L724.1 598.8" stroke="#1c1c1c" stroke-width="0.7" /><path d="M723.2 592.8L725 592.8" stroke="#1c1c1c" stroke-width="0.6" /><path d="M722.4 606.8L725.8 606.8L724.1 610.2Z" stroke="#1c1c1c" stroke-width="0.5" fill="#1c1c1c" /><path d="M722.6 622.4L725.6 625.4" stroke="#1c1c1c" stroke-width="0.6" /><path d="M722.6 625.4L725.6 622.4" stroke="#1c1c1c" stroke-width="0.6" /><rect x="717.3" y="637.2" width="13.2" height="28.6" stroke="#2a2a2a" stroke-width="0.8" fill="#fff" /><path d="M724.1 637.2L724.1 648" stroke="#1c1c1c" stroke-width="0.8" /><path d="M724.1 640L724.1 644.6" stroke="#fff" stroke-width="1.7" /><path d="M721.1 640.8L724.1 644.6" stroke="#1c1c1c" stroke-width="0.7" /><path d="M723.2 640L725 640" stroke="#1c1c1c" stroke-width="0.6" /><rect x="720.1" y="648" width="7.4" height="6.4" stroke="#1c1c1c" stroke-width="0.8" fill="none" /><text class="b" x="720.8" y="652.6" font-size="3.6" fill="#1c1c1c" textLength="6.1" lengthAdjust="spacingAndGlyphs">BSW</text><rect x="719.8" y="655.4" width="8.1" height="7.2" stroke="#1c1c1c" stroke-width="0.7" fill="none" /><circle cx="723.9" cy="659" r="0.9" fill="#d01818"/><circle cx="707.1" cy="650.3" r="0.8" fill="#1c1c1c"/><circle cx="710.4" cy="650.3" r="0.8" fill="#1c1c1c"/><circle cx="713.7" cy="650.3" r="0.8" fill="#1c1c1c"/><text class="b" x="698.3" y="681.56" font-size="6" fill="#1c1c1c" textLength="26.7" lengthAdjust="spacingAndGlyphs">4#储能系统</text><text class="a" x="691.1" y="690.98" font-size="6.6" fill="#1c1c1c" textLength="44.3" lengthAdjust="spacingAndGlyphs">0.5MW/1.075MWh</text><path d="M607.4 623.9L637.8 623.9C640.4 623.9 641.4 622 644.0 622L690.7 622C693.1 622 694.1 623.9 696.5 623.9L725.7 623.9" stroke="#1c1c1c" stroke-width="0.8"/><text class="b" x="645.2" y="615.16" font-size="6" fill="#1c1c1c" textLength="45.3" lengthAdjust="spacingAndGlyphs">ZR-YJV22-0.6/1kV-</text><text class="b" x="650" y="620.66" font-size="6" fill="#1c1c1c" textLength="32.4" lengthAdjust="spacingAndGlyphs">3×70+1×35mm2</text><rect x="801.9" y="445.3" width="85.4" height="48.9" stroke="#2a2a2a" stroke-width="0.8" fill="none" stroke-dasharray="3.6 1.6"/><circle cx="837.8" cy="432.4" r="1.5" fill="#1c1c1c"/><path d="M837.8 432.4L837.8 468.2" stroke="#1c1c1c" stroke-width="0.8" /><path d="M837.8 447.4L837.8 453.4" stroke="#fff" stroke-width="1.7" /><path d="M834.8 448.2L837.8 453.4" stroke="#1c1c1c" stroke-width="0.7" /><path d="M836.9 447.4L838.7 447.4" stroke="#1c1c1c" stroke-width="0.6" /><rect x="828.4" y="455.5" width="32" height="9.3" stroke="#2a2a2a" stroke-width="0.7" fill="#fff" stroke-dasharray="2.4 1.2"/><path d="M830.4 460.15L847.4 460.15" stroke="#1c1c1c" stroke-width="0.8" /><path d="M831.8 460.15L833.7 458.25L835.6 460.15L833.7 462.05Z" stroke="#1c1c1c" stroke-width="0.9" fill="#fff" /><path d="M837 460.15L838.9 458.25L840.8 460.15L838.9 462.05Z" stroke="#1c1c1c" stroke-width="0.9" fill="#fff" /><path d="M842.2 460.15L844.1 458.25L846 460.15L844.1 462.05Z" stroke="#1c1c1c" stroke-width="0.9" fill="#fff" /><path d="M846.1 458.85L848.1 460.15L846.1 461.45Z" stroke="#1c1c1c" stroke-width="0.6" fill="#1c1c1c" /><text class="b" x="850" y="462.58" font-size="6.2" fill="#1c1c1c" textLength="9.8" lengthAdjust="spacingAndGlyphs">脱扣</text><path d="M837.8 455.5L837.8 468.2" stroke="#1c1c1c" stroke-width="0.8" /><path d="M806.5 468.2L881 468.2" stroke="#1c1c1c" stroke-width="0.9" /><circle cx="833.4" cy="482.6" r="0.8" fill="#1c1c1c"/><circle cx="836.5" cy="482.6" r="0.8" fill="#1c1c1c"/><circle cx="839.6" cy="482.6" r="0.8" fill="#1c1c1c"/><path d="M816.6 468.2L816.6 521.3" stroke="#1c1c1c" stroke-width="1.0" /><path d="M816.6 478.6L816.6 485.2" stroke="#fff" stroke-width="1.7" /><path d="M813.6 479.4L816.6 485.2" stroke="#1c1c1c" stroke-width="0.7" /><path d="M815.7 478.6L817.5 478.6" stroke="#1c1c1c" stroke-width="0.6" /><path d="M814.4 497.8L818.8 497.8L816.6 501.8Z" stroke="#22dd22" stroke-width="0.5" fill="#22dd22" /><rect x="808" y="521.3" width="17.4" height="17.2" stroke="#2a2a2a" stroke-width="0.9" fill="#fff" /><path d="M808 538.5L825.4 521.3" stroke="#1c1c1c" stroke-width="0.8" /><text class="b" x="810.4" y="531.76" font-size="6" fill="#1c1c1c" textLength="3.6" lengthAdjust="spacingAndGlyphs">~</text><path d="M820.8 531.2L823 531.2" stroke="#1c1c1c" stroke-width="0.7" /><path d="M820.8 532.6L823 532.6" stroke="#1c1c1c" stroke-width="0.7" /><path d="M814.4 539.6L818.8 539.6L816.6 543.6Z" stroke="#22dd22" stroke-width="0.5" fill="#22dd22" /><path d="M816.6 538.5L816.6 549.4" stroke="#1c1c1c" stroke-width="0.9" /><path d="M808.2 560.3L808.2 549.4L825.2 549.4L825.2 560.3" stroke="#1c1c1c" stroke-width="0.8" fill="none" /><circle cx="814" cy="553.6" r="0.75" fill="#1c1c1c"/><circle cx="816.8" cy="553.6" r="0.75" fill="#1c1c1c"/><circle cx="819.6" cy="553.6" r="0.75" fill="#1c1c1c"/><rect x="804.4" y="560.3" width="7.4" height="12.8" stroke="#2a2a2a" stroke-width="0.8" fill="#fff" /><rect x="821.8" y="560.3" width="7.2" height="12.8" stroke="#2a2a2a" stroke-width="0.8" fill="#fff" /><path d="M855.6 468.2L855.6 521.3" stroke="#1c1c1c" stroke-width="1.0" /><path d="M855.6 478.6L855.6 485.2" stroke="#fff" stroke-width="1.7" /><path d="M852.6 479.4L855.6 485.2" stroke="#1c1c1c" stroke-width="0.7" /><path d="M854.7 478.6L856.5 478.6" stroke="#1c1c1c" stroke-width="0.6" /><path d="M853.4 497.8L857.8 497.8L855.6 501.8Z" stroke="#22dd22" stroke-width="0.5" fill="#22dd22" /><rect x="847" y="521.3" width="17.4" height="17.2" stroke="#2a2a2a" stroke-width="0.9" fill="#fff" /><path d="M847 538.5L864.4 521.3" stroke="#1c1c1c" stroke-width="0.8" /><text class="b" x="849.4" y="531.76" font-size="6" fill="#1c1c1c" textLength="3.6" lengthAdjust="spacingAndGlyphs">~</text><path d="M859.8 531.2L862 531.2" stroke="#1c1c1c" stroke-width="0.7" /><path d="M859.8 532.6L862 532.6" stroke="#1c1c1c" stroke-width="0.7" /><path d="M853.4 539.6L857.8 539.6L855.6 543.6Z" stroke="#22dd22" stroke-width="0.5" fill="#22dd22" /><path d="M855.6 538.5L855.6 549.4" stroke="#1c1c1c" stroke-width="0.9" /><path d="M847.2 560.3L847.2 549.4L864.2 549.4L864.2 560.3" stroke="#1c1c1c" stroke-width="0.8" fill="none" /><circle cx="853" cy="553.6" r="0.75" fill="#1c1c1c"/><circle cx="855.8" cy="553.6" r="0.75" fill="#1c1c1c"/><circle cx="858.6" cy="553.6" r="0.75" fill="#1c1c1c"/><rect x="843.4" y="560.3" width="7.4" height="12.8" stroke="#2a2a2a" stroke-width="0.8" fill="#fff" /><rect x="860.8" y="560.3" width="7.2" height="12.8" stroke="#2a2a2a" stroke-width="0.8" fill="#fff" /><path d="M869.4 468.2L869.4 494.2" stroke="#1c1c1c" stroke-width="0.8" /><path d="M869.4 478.6L869.4 485.2" stroke="#fff" stroke-width="1.7" /><path d="M866.4 479.4L869.4 485.2" stroke="#1c1c1c" stroke-width="0.7" /><path d="M868.5 478.6L870.3 478.6" stroke="#1c1c1c" stroke-width="0.6" /><circle cx="833.6" cy="529.8" r="0.8" fill="#1c1c1c"/><circle cx="836.7" cy="529.8" r="0.8" fill="#1c1c1c"/><circle cx="839.8" cy="529.8" r="0.8" fill="#1c1c1c"/><text class="a" x="820.2" y="516.7" font-size="6.4" fill="#1c1c1c" textLength="10" lengthAdjust="spacingAndGlyphs">N11</text><text class="a" x="859.1" y="516.7" font-size="6.4" fill="#1c1c1c" textLength="9.6" lengthAdjust="spacingAndGlyphs">N20</text><rect x="900.9" y="445.3" width="85.4" height="48.9" stroke="#2a2a2a" stroke-width="0.8" fill="none" stroke-dasharray="3.6 1.6"/><circle cx="936.8" cy="432.4" r="1.5" fill="#1c1c1c"/><path d="M936.8 432.4L936.8 468.2" stroke="#1c1c1c" stroke-width="0.8" /><path d="M936.8 447.4L936.8 453.4" stroke="#fff" stroke-width="1.7" /><path d="M933.8 448.2L936.8 453.4" stroke="#1c1c1c" stroke-width="0.7" /><path d="M935.9 447.4L937.7 447.4" stroke="#1c1c1c" stroke-width="0.6" /><rect x="927.4" y="455.5" width="32" height="9.3" stroke="#2a2a2a" stroke-width="0.7" fill="#fff" stroke-dasharray="2.4 1.2"/><path d="M929.4 460.15L946.4 460.15" stroke="#1c1c1c" stroke-width="0.8" /><path d="M930.8 460.15L932.7 458.25L934.6 460.15L932.7 462.05Z" stroke="#1c1c1c" stroke-width="0.9" fill="#fff" /><path d="M936 460.15L937.9 458.25L939.8 460.15L937.9 462.05Z" stroke="#1c1c1c" stroke-width="0.9" fill="#fff" /><path d="M941.2 460.15L943.1 458.25L945 460.15L943.1 462.05Z" stroke="#1c1c1c" stroke-width="0.9" fill="#fff" /><path d="M945.1 458.85L947.1 460.15L945.1 461.45Z" stroke="#1c1c1c" stroke-width="0.6" fill="#1c1c1c" /><text class="b" x="949" y="462.58" font-size="6.2" fill="#1c1c1c" textLength="9.8" lengthAdjust="spacingAndGlyphs">脱扣</text><path d="M936.8 455.5L936.8 468.2" stroke="#1c1c1c" stroke-width="0.8" /><path d="M905.5 468.2L980 468.2" stroke="#1c1c1c" stroke-width="0.9" /><circle cx="932.4" cy="482.6" r="0.8" fill="#1c1c1c"/><circle cx="935.5" cy="482.6" r="0.8" fill="#1c1c1c"/><circle cx="938.6" cy="482.6" r="0.8" fill="#1c1c1c"/><path d="M915.6 468.2L915.6 521.3" stroke="#1c1c1c" stroke-width="1.0" /><path d="M915.6 478.6L915.6 485.2" stroke="#fff" stroke-width="1.7" /><path d="M912.6 479.4L915.6 485.2" stroke="#1c1c1c" stroke-width="0.7" /><path d="M914.7 478.6L916.5 478.6" stroke="#1c1c1c" stroke-width="0.6" /><path d="M913.4 497.8L917.8 497.8L915.6 501.8Z" stroke="#22dd22" stroke-width="0.5" fill="#22dd22" /><rect x="907" y="521.3" width="17.4" height="17.2" stroke="#2a2a2a" stroke-width="0.9" fill="#fff" /><path d="M907 538.5L924.4 521.3" stroke="#1c1c1c" stroke-width="0.8" /><text class="b" x="909.4" y="531.76" font-size="6" fill="#1c1c1c" textLength="3.6" lengthAdjust="spacingAndGlyphs">~</text><path d="M919.8 531.2L922 531.2" stroke="#1c1c1c" stroke-width="0.7" /><path d="M919.8 532.6L922 532.6" stroke="#1c1c1c" stroke-width="0.7" /><path d="M913.4 542.4L917.8 542.4L915.6 546.4Z" stroke="#22dd22" stroke-width="0.5" fill="#22dd22" /><path d="M915.6 538.5L915.6 575" stroke="#1c1c1c" stroke-width="0.9" /><circle cx="915.6" cy="566.5" r="9.4" stroke="#f23df2" stroke-width="1.0" fill="none"/><path d="M906.2 566.5L925 566.5" stroke="#f23df2" stroke-width="0.7" /><path d="M915.6 557.1L915.6 575.9" stroke="#f23df2" stroke-width="0.7" /><path d="M915.60 566.50Q919.83 570.45 924.62 566.50Q920.77 566.97 915.60 566.50" stroke="#f23df2" stroke-width="0.7"/><path d="M915.60 566.50Q911.65 570.73 915.60 575.52Q915.13 571.67 915.60 566.50" stroke="#f23df2" stroke-width="0.7"/><path d="M915.60 566.50Q911.37 562.55 906.58 566.50Q910.43 566.03 915.60 566.50" stroke="#f23df2" stroke-width="0.7"/><path d="M915.60 566.50Q919.55 562.27 915.60 557.48Q916.07 561.33 915.60 566.50" stroke="#f23df2" stroke-width="0.7"/><path d="M954.6 468.2L954.6 521.3" stroke="#1c1c1c" stroke-width="1.0" /><path d="M954.6 478.6L954.6 485.2" stroke="#fff" stroke-width="1.7" /><path d="M951.6 479.4L954.6 485.2" stroke="#1c1c1c" stroke-width="0.7" /><path d="M953.7 478.6L955.5 478.6" stroke="#1c1c1c" stroke-width="0.6" /><path d="M952.4 497.8L956.8 497.8L954.6 501.8Z" stroke="#22dd22" stroke-width="0.5" fill="#22dd22" /><rect x="946" y="521.3" width="17.4" height="17.2" stroke="#2a2a2a" stroke-width="0.9" fill="#fff" /><path d="M946 538.5L963.4 521.3" stroke="#1c1c1c" stroke-width="0.8" /><text class="b" x="948.4" y="531.76" font-size="6" fill="#1c1c1c" textLength="3.6" lengthAdjust="spacingAndGlyphs">~</text><path d="M958.8 531.2L961 531.2" stroke="#1c1c1c" stroke-width="0.7" /><path d="M958.8 532.6L961 532.6" stroke="#1c1c1c" stroke-width="0.7" /><path d="M952.4 542.4L956.8 542.4L954.6 546.4Z" stroke="#22dd22" stroke-width="0.5" fill="#22dd22" /><path d="M954.6 538.5L954.6 575" stroke="#1c1c1c" stroke-width="0.9" /><circle cx="954.6" cy="566.5" r="9.4" stroke="#f23df2" stroke-width="1.0" fill="none"/><path d="M945.2 566.5L964 566.5" stroke="#f23df2" stroke-width="0.7" /><path d="M954.6 557.1L954.6 575.9" stroke="#f23df2" stroke-width="0.7" /><path d="M954.60 566.50Q958.83 570.45 963.62 566.50Q959.77 566.97 954.60 566.50" stroke="#f23df2" stroke-width="0.7"/><path d="M954.60 566.50Q950.65 570.73 954.60 575.52Q954.13 571.67 954.60 566.50" stroke="#f23df2" stroke-width="0.7"/><path d="M954.60 566.50Q950.37 562.55 945.58 566.50Q949.43 566.03 954.60 566.50" stroke="#f23df2" stroke-width="0.7"/><path d="M954.60 566.50Q958.55 562.27 954.60 557.48Q955.07 561.33 954.60 566.50" stroke="#f23df2" stroke-width="0.7"/><path d="M968.4 468.2L968.4 494.2" stroke="#1c1c1c" stroke-width="0.8" /><path d="M968.4 478.6L968.4 485.2" stroke="#fff" stroke-width="1.7" /><path d="M965.4 479.4L968.4 485.2" stroke="#1c1c1c" stroke-width="0.7" /><path d="M967.5 478.6L969.3 478.6" stroke="#1c1c1c" stroke-width="0.6" /><circle cx="932.6" cy="529.8" r="0.8" fill="#1c1c1c"/><circle cx="935.7" cy="529.8" r="0.8" fill="#1c1c1c"/><circle cx="938.8" cy="529.8" r="0.8" fill="#1c1c1c"/><path d="M790.2 519.4L753.4 519.4L753.4 572.2L790.2 572.2" stroke="#1c1c1c" stroke-width="0.8" fill="none" /><path d="M753.4 545.8L790.2 545.8" stroke="#1c1c1c" stroke-width="0.8" /><text class="b" x="756.6" y="528.36" font-size="6" fill="#1c1c1c" textLength="26.8" lengthAdjust="spacingAndGlyphs">组串式逆变器</text><text class="b" x="756.6" y="538.03" font-size="6.2" fill="#1c1c1c" textLength="45.8" lengthAdjust="spacingAndGlyphs">100kW、110kW、125kW</text><text class="b" x="756.6" y="557.06" font-size="6" fill="#1c1c1c" textLength="18.6" lengthAdjust="spacingAndGlyphs">光伏组件</text><text class="b" x="756.6" y="564.53" font-size="6.2" fill="#1c1c1c" textLength="20" lengthAdjust="spacingAndGlyphs">PW:600Wp</text><text class="b" x="822" y="593.18" font-size="6.6" fill="#1c1c1c" textLength="40.2" lengthAdjust="spacingAndGlyphs">N11-N20逆变器</text><text class="b" x="819" y="601.98" font-size="6.6" fill="#1c1c1c" textLength="44.8" lengthAdjust="spacingAndGlyphs">交流容量:1150kW</text><text class="b" x="919.8" y="592.96" font-size="6" fill="#1c1c1c" textLength="29" lengthAdjust="spacingAndGlyphs">FJ1-3逆变器</text><text class="b" x="915.8" y="601.76" font-size="6" fill="#1c1c1c" textLength="38.2" lengthAdjust="spacingAndGlyphs">交流容量:3×30kW</text></svg>
<div id="pn" class="abs"><div class="tb"></div><div class="tbl"></div><div class="tab" style="left:8.3px;top:3.8px;width:36.5px;height:17px;">储能总览</div><div class="tab" style="left:48.2px;top:3.8px;width:60.6px;height:17px;">策略模板管理&nbsp; <span style="position:static;font-weight:400;color:#9fb0ee">×</span></div><div class="tab on" style="left:112.1px;top:3.8px;width:56.2px;height:17px;"><span style="position:static;display:inline-block;width:4.4px;height:4.4px;border-radius:50%;background:#fff;vertical-align:1px;margin-right:3.5px"></span>策略下发&nbsp; <span style="position:static;font-weight:400;color:#cfdcff">×</span></div><div class="sb"></div><div class="sbin">请输</div><div class="sbbox"></div><div class="sbr on" style="top:63.8px"><div class="sq"></div></div><div class="sbr" style="top:86.9px"><div class="sq"></div></div><div class="sbr" style="top:110px"><div class="sq"></div></div><div class="sbr" style="top:133.1px"><div class="sq"></div></div><div class="sbr" style="top:156.2px"><div class="sq"></div></div><div class="sbr" style="top:179.3px"><div class="sq"></div></div><div class="sbr" style="top:202.4px"><div class="sq"></div></div><div style="left:44px;top:24.5px;width:537px;height:488px;background:#24328c"></div><div class="h1">任务新增</div><div class="lab" style="left:71.5px;top:60px;"><span class="req" style="position:static">*</span> 策略任务名称</div><div class="inp" style="left:130.4px;top:55.7px;width:145px;height:20.3px;"><div class="ph" style="left:10px;top:3.5px">请输入</div></div><div class="card" style="left:62.1px;top:85.2px;width:202.8px;height:420.3px;"></div><div class="lab" style="left:79.7px;top:104.6px;">时间设定</div><div class="inp" style="left:119.4px;top:100.2px;width:127.2px;height:20.3px;"><svg style="position:absolute;left:6px;top:5.6px" width="8" height="8" viewBox="0 0 16 16"><rect x="1.5" y="3" width="13" height="11.5" fill="none" stroke="#6e7fc8" stroke-width="1.6"/><path d="M1.5 6.5H14.5M5 1V4M11 1V4" stroke="#6e7fc8" stroke-width="1.6" fill="none"/></svg><div style="left:19px;top:3.6px;font-size:7.9px;line-height:12px;color:#f4f6ff;">2024-12-18 &nbsp;~&nbsp; 2025-01-18</div></div><div class="hr" style="left:73.6px;top:128.9px;width:179.2px;height:1px;"></div><div class="" style="left:79.9px;top:136.2px;width:7.2px;height:7.2px;border-radius:50%;background:#2f9bff;border:0.6px solid #7cc4ff;"><div style="left:1.6px;top:1.6px;width:2.8px;height:2.8px;border-radius:50%;background:#cfe6ff"></div></div><div class="cl" style="left:93.3px;top:134px;color:#3b9cff;">按周</div><div class="" style="left:178.4px;top:136.2px;width:7.2px;height:7.2px;border-radius:50%;border:1px solid #33439c;background:#253391;"></div><div class="lab" style="left:192px;top:134px;font-size:7.8px;">按工作日历</div><div class="cb" style="left:79.7px;top:158.1px;"></div><div class="cl" style="left:93.2px;top:156px;">周一</div><div class="cb" style="left:132.7px;top:158.1px;"></div><div class="cl" style="left:146.2px;top:156px;">周二</div><div class="cb" style="left:185.6px;top:158.1px;"></div><div class="cl" style="left:199.1px;top:156px;">周三</div><div class="cb" style="left:79.7px;top:181.8px;"></div><div class="cl" style="left:93.2px;top:179.7px;">周四</div><div class="cb" style="left:132.7px;top:181.8px;"></div><div class="cl" style="left:146.2px;top:179.7px;">周五</div><div class="cb" style="left:185.6px;top:181.8px;"></div><div class="cl" style="left:199.1px;top:179.7px;">周六</div><div class="cb" style="left:79.7px;top:205.5px;"></div><div class="cl" style="left:93.2px;top:203.4px;">周日</div><div class="hr" style="left:73.6px;top:237.6px;width:179.2px;height:1px;"></div><div class="lab" style="left:77.5px;top:248.2px;font-size:7.6px;"><span class="req" style="position:static">*</span> 筛选执行策略</div><div class="" style="left:76.6px;top:266.4px;width:173.6px;height:202.2px;border:1px solid #8796d2;"></div><div class="" style="left:143.8px;top:266.4px;width:1px;height:202.2px;background:#8796d2;"></div><div class="st" style="left:86px;top:277.3px;color:#2f86f0;">计划曲线</div><div class="st" style="left:86px;top:306.2px;">新能源消纳</div><div class="st" style="left:86px;top:335.1px;">逆功率</div><div class="st" style="left:86px;top:364px;">需量控制</div><div class="st" style="left:86px;top:392.9px;color:#4656a8;">有序充电</div><div class="st" style="left:86px;top:421.8px;">削峰填谷</div><div class="st" style="left:86px;top:450.7px;">动态扩容</div><div class="cb" style="left:157.8px;top:272.8px;"></div><div class="cl" style="left:171px;top:271.4px;font-weight:700;font-size:7.6px;">计划曲线</div><div class="card" style="left:271.3px;top:85.2px;width:307px;height:420.3px;"></div><div class="lab" style="left:283.3px;top:96px;font-size:7.8px;">设备列表</div><div class="inp" style="left:282.8px;top:114.5px;width:117.2px;height:18.4px;"><div class="ph" style="left:9px;top:2.6px">站点名称</div><svg style="position:absolute;left:104px;top:6px" width="7" height="6" viewBox="0 0 14 12"><path d="M2 3L7 8.5L12 3" stroke="#5f6fba" stroke-width="1.6" fill="none"/></svg></div><div class="inp" style="left:403.4px;top:114.5px;width:115.4px;height:18.4px;"><div class="ph" style="left:10px;top:2.6px">请输入仪表编号</div><svg style="position:absolute;left:101px;top:5px" width="8" height="8" viewBox="0 0 16 16"><circle cx="7" cy="7" r="5" stroke="#7f8fd2" stroke-width="1.5" fill="none"/><path d="M11 11L14 14" stroke="#7f8fd2" stroke-width="1.5"/></svg></div><div style="left:283.3px;top:141.2px;width:283.5px;height:300.1px;overflow:hidden;border-left:1px solid #3446a6;"><div class="th" style="left:0;top:0;width:283.5px;height:25.7px"></div><div class="cb" style="left:6px;top:9px"></div><div class="th" style="left:23.3px;top:0;width:84.6px;height:25.7px;background:none">项目名称</div><div class="th" style="left:107.9px;top:0;width:85.3px;height:25.7px;background:none">仪表编号</div><div class="th" style="left:193.2px;top:0;width:85.9px;height:25.7px;background:none">仪表名称</div><div class="td" style="left:0;top:25.7px;width:279.1px"></div><div class="cb" style="left:6px;top:34.9px"></div><div class="td" style="left:23.3px;top:25.7px;width:84.6px;border:none">三门峡渑池收费站...</div><div class="td" style="left:107.9px;top:25.7px;width:85.3px;border:none">C101002</div><div class="td" style="left:193.2px;top:25.7px;width:85.9px;border:none">PCS</div><div class="td" style="left:0;top:51.12px;width:279.1px"></div><div class="cb" style="left:6px;top:60.32px"></div><div class="td" style="left:23.3px;top:51.12px;width:84.6px;border:none">中牟服务区北区储能</div><div class="td" style="left:107.9px;top:51.12px;width:85.3px;border:none">C101002</div><div class="td" style="left:193.2px;top:51.12px;width:85.9px;border:none">1</div><div class="td" style="left:0;top:76.54px;width:279.1px"></div><div class="cb" style="left:6px;top:85.74px"></div><div class="td" style="left:23.3px;top:76.54px;width:84.6px;border:none">郑州北服务区北区...</div><div class="td" style="left:107.9px;top:76.54px;width:85.3px;border:none">C101002</div><div class="td" style="left:193.2px;top:76.54px;width:85.9px;border:none">PCS</div><div class="td" style="left:0;top:101.96px;width:279.1px"></div><div class="cb" style="left:6px;top:111.16px"></div><div class="td" style="left:23.3px;top:101.96px;width:84.6px;border:none">郑州北服务区南区...</div><div class="td" style="left:107.9px;top:101.96px;width:85.3px;border:none">C101002</div><div class="td" style="left:193.2px;top:101.96px;width:85.9px;border:none">PCS</div><div class="td" style="left:0;top:127.38px;width:279.1px"></div><div class="cb" style="left:6px;top:136.58px"></div><div class="td" style="left:23.3px;top:127.38px;width:84.6px;border:none">中牟服务区南区储能</div><div class="td" style="left:107.9px;top:127.38px;width:85.3px;border:none">C101002</div><div class="td" style="left:193.2px;top:127.38px;width:85.9px;border:none">PCS</div><div class="td" style="left:0;top:152.8px;width:279.1px"></div><div class="cb" style="left:6px;top:162px"></div><div class="td" style="left:23.3px;top:152.8px;width:84.6px;border:none">漯河南收费站储能</div><div class="td" style="left:107.9px;top:152.8px;width:85.3px;border:none">C101002</div><div class="td" style="left:193.2px;top:152.8px;width:85.9px;border:none">PCS</div><div class="td" style="left:0;top:178.22px;width:279.1px"></div><div class="cb" style="left:6px;top:187.42px"></div><div class="td" style="left:23.3px;top:178.22px;width:84.6px;border:none">漯河收费站储能</div><div class="td" style="left:107.9px;top:178.22px;width:85.3px;border:none">C101002</div><div class="td" style="left:193.2px;top:178.22px;width:85.9px;border:none">PSC</div><div class="td" style="left:0;top:203.64px;width:279.1px"></div><div class="cb" style="left:6px;top:212.84px"></div><div class="td" style="left:23.3px;top:203.64px;width:84.6px;border:none">许昌东收费站储能</div><div class="td" style="left:107.9px;top:203.64px;width:85.3px;border:none">C101002</div><div class="td" style="left:193.2px;top:203.64px;width:85.9px;border:none">PSC</div><div class="td" style="left:0;top:229.06px;width:279.1px"></div><div class="cb" style="left:6px;top:238.26px"></div><div class="td" style="left:23.3px;top:229.06px;width:84.6px;border:none">灵宝西收费站储能</div><div class="td" style="left:107.9px;top:229.06px;width:85.3px;border:none">C101002</div><div class="td" style="left:193.2px;top:229.06px;width:85.9px;border:none">PSC</div><div class="td" style="left:0;top:254.48px;width:279.1px"></div><div class="cb" style="left:6px;top:263.68px"></div><div class="td" style="left:23.3px;top:254.48px;width:84.6px;border:none">许昌北收费站储能</div><div class="td" style="left:107.9px;top:254.48px;width:85.3px;border:none">C101002</div><div class="td" style="left:193.2px;top:254.48px;width:85.9px;border:none">PSC</div><div class="td" style="left:0;top:279.9px;width:279.1px"></div><div class="cb" style="left:6px;top:289.1px"></div><div class="td" style="left:23.3px;top:279.9px;width:84.6px;border:none">观音堂收费站储能</div><div class="td" style="left:107.9px;top:279.9px;width:85.3px;border:none">C101002</div><div class="td" style="left:193.2px;top:279.9px;width:85.9px;border:none">PSC</div><div class="vl" style="left:23.3px;top:0;height:300.1px"></div><div class="vl" style="left:107.9px;top:0;height:300.1px"></div><div class="vl" style="left:193.2px;top:0;height:300.1px"></div><div class="vl" style="left:279.1px;top:0;height:300.1px"></div><div class="vl" style="left:282.5px;top:25.7px;height:300.1px"></div></div><div class="" style="left:283.3px;top:441px;width:283.5px;height:1px;background:#3446a6;"></div><div class="" style="left:282.8px;top:453px;width:42px;height:17.6px;background:#3e67c9;font-size:7.6px;font-weight:700;line-height:17.6px;text-align:center;color:#eef2ff;">添加 <span style="position:static;font-family:DejaVu Sans,sans-serif;font-size:7px">→</span></div></div>
<div id="bul" class="abs"><svg class="abs" style="left:2px;top:7px;overflow:visible" width="18.3" height="20.1" viewBox="0 0 100 100" preserveAspectRatio="none"><path d="M2 2 L100 48 L34 48 Z" fill="none" stroke="#e60000" stroke-width="3.2" stroke-linejoin="miter"/><path d="M34 48 L100 48 L0 100 Z" fill="#e60000"/></svg><div class="ln" style="top:0">实现防逆流、新能源消纳、需量控制、</div><div class="ln" style="top:37.4px">峰谷套利。</div><svg class="abs" style="left:2px;top:81.9px;overflow:visible" width="18.3" height="20.1" viewBox="0 0 100 100" preserveAspectRatio="none"><path d="M2 2 L100 48 L34 48 Z" fill="none" stroke="#e60000" stroke-width="3.2" stroke-linejoin="miter"/><path d="M34 48 L100 48 L0 100 Z" fill="#e60000"/></svg><div class="ln" style="top:74.8px">是配合<span class="lat" style="width:31.4px"><span class="lat" style="transform:scaleX(0.58)">MG</span></span>或者<span class="lat" style="width:62.8px"><span class="lat" style="transform:scaleX(0.692)">ACCU</span></span>实现<span style="color:#222">。</span></div></div>
<div id="edge" class="abs"></div>
<svg class="abs" style="left:0;top:0" width="1643" height="771" viewBox="0 0 1643 771"><path d="M0 696.9 L26.2 696.9C29.3 698.1 37.8 701.5 44.6 704.2C51.4 706.9 59.5 710.2 66.9 712.9C74.3 715.5 81.8 717.8 89.2 720.1C96.6 722.4 104.1 724.5 111.5 726.5C118.9 728.5 126.4 730.1 133.8 731.8C141.2 733.5 148.4 735.0 156.1 736.6C163.8 738.2 168.3 738.7 180.0 741.2C191.7 743.7 210.9 748.4 226.3 751.6C241.7 754.8 257.1 757.9 272.5 760.4C287.9 762.9 305.6 765.1 318.8 766.9C332.0 768.7 346.1 770.5 351.6 771.2 L0 771.2 Z" fill="#00aeef"/><path d="M1265.6 771.2C1271.9 770.0 1289.2 766.4 1303.7 763.7C1318.2 761.0 1336.2 757.6 1352.4 754.8C1368.6 752.0 1385.9 749.3 1401.0 746.8C1416.1 744.3 1427.9 742.9 1443.0 739.9C1458.1 736.9 1475.5 732.9 1491.7 728.6C1507.9 724.4 1524.2 719.5 1540.4 714.4C1556.6 709.3 1574.8 703.1 1589.0 697.9C1603.2 692.7 1616.5 686.9 1625.6 683.0C1634.7 679.1 1640.5 676.0 1643.5 674.6 L1643.5 771.2 Z" fill="#00aeef"/></svg>
</body></html>
